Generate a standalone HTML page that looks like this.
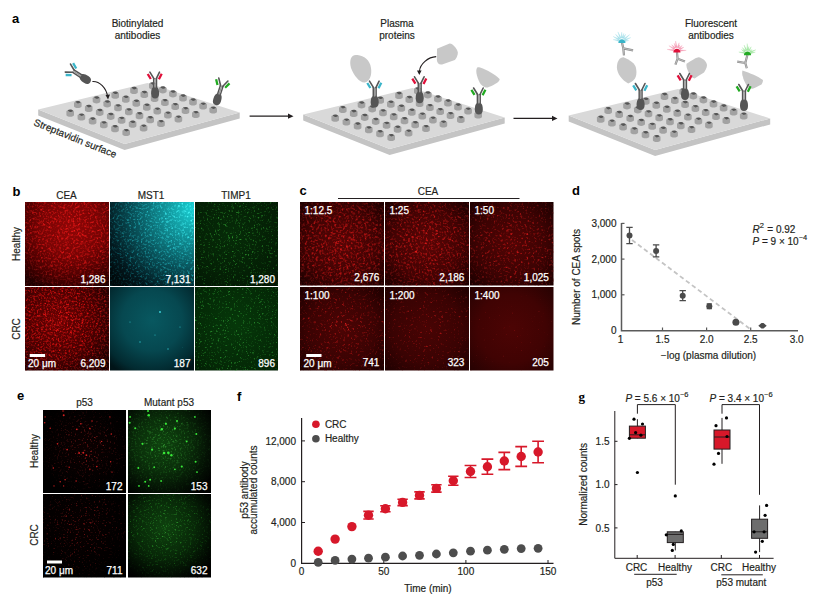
<!DOCTYPE html>
<html><head><meta charset="utf-8"><style>html,body{margin:0;padding:0;background:#fff;}svg{display:block;}text{font-family:"Liberation Sans",sans-serif;} text[fill="#231f20"]{stroke:#231f20;stroke-width:0.18px;}</style></head>
<body><svg width="816" height="602" viewBox="0 0 816 602" font-family="Liberation Sans, sans-serif"><defs><radialGradient id="bg0" cx="0.55" cy="0.3" r="0.8"><stop offset="0" stop-color="#900606"/><stop offset="0.45" stop-color="#760404"/><stop offset="0.8" stop-color="#440000"/><stop offset="1" stop-color="#200000"/></radialGradient><radialGradient id="br0" cx="0.55" cy="0.3" r="0.8"><stop offset="0" stop-color="#ff1c1c"/><stop offset="0.6" stop-color="#d01414"/><stop offset="1" stop-color="#501010"/></radialGradient><filter id="th0" x="0" y="0" width="1" height="1" color-interpolation-filters="sRGB"><feColorMatrix type="matrix" values="0 0 0 0 1  0 0 0 0 1  0 0 0 0 1  4.93 0 0 0 -2.394"/><feGaussianBlur stdDeviation="0.45"/></filter><filter id="raw0" x="0" y="0" width="1" height="1" color-interpolation-filters="sRGB"><feTurbulence type="fractalNoise" baseFrequency="0.6" numOctaves="2" seed="2"/><feColorMatrix type="matrix" values="1 0 0 0 0  1 0 0 0 0  1 0 0 0 0  0 0 0 0 1"/></filter><filter id="raw1" x="0" y="0" width="1" height="1" color-interpolation-filters="sRGB"><feTurbulence type="fractalNoise" baseFrequency="0.528" numOctaves="2" seed="52"/><feColorMatrix type="matrix" values="1 0 0 0 0  1 0 0 0 0  1 0 0 0 0  0 0 0 0 1"/></filter><mask id="m0" maskUnits="userSpaceOnUse" x="25" y="202" width="84" height="84"><g filter="url(#th0)"><rect x="25" y="202" width="84" height="84" fill="#000"/><g transform="rotate(27 67.0 244.0)"><rect x="4.0" y="181.0" width="126.0" height="126.0" filter="url(#raw0)"/></g><g transform="rotate(-19 67.0 244.0)" opacity="0.5"><rect x="4.0" y="181.0" width="126.0" height="126.0" filter="url(#raw1)"/></g></g></mask><radialGradient id="bg1" cx="1.0" cy="0.08" r="1.25"><stop offset="0" stop-color="#1ad0d4"/><stop offset="0.25" stop-color="#12989e"/><stop offset="0.6" stop-color="#084c54"/><stop offset="0.85" stop-color="#03181e"/><stop offset="1" stop-color="#010a0c"/></radialGradient><radialGradient id="br1" cx="1.0" cy="0.08" r="1.25"><stop offset="0" stop-color="#50ffff"/><stop offset="0.35" stop-color="#30d8e0"/><stop offset="0.8" stop-color="#10707a"/><stop offset="1" stop-color="#06343a"/></radialGradient><filter id="th1" x="0" y="0" width="1" height="1" color-interpolation-filters="sRGB"><feColorMatrix type="matrix" values="0 0 0 0 1  0 0 0 0 1  0 0 0 0 1  5.22 0 0 0 -2.610"/><feGaussianBlur stdDeviation="0.4"/></filter><filter id="raw2" x="0" y="0" width="1" height="1" color-interpolation-filters="sRGB"><feTurbulence type="fractalNoise" baseFrequency="0.6" numOctaves="2" seed="3"/><feColorMatrix type="matrix" values="1 0 0 0 0  1 0 0 0 0  1 0 0 0 0  0 0 0 0 1"/></filter><filter id="raw3" x="0" y="0" width="1" height="1" color-interpolation-filters="sRGB"><feTurbulence type="fractalNoise" baseFrequency="0.528" numOctaves="2" seed="53"/><feColorMatrix type="matrix" values="1 0 0 0 0  1 0 0 0 0  1 0 0 0 0  0 0 0 0 1"/></filter><mask id="m1" maskUnits="userSpaceOnUse" x="110" y="202" width="84" height="84"><g filter="url(#th1)"><rect x="110" y="202" width="84" height="84" fill="#000"/><g transform="rotate(33 152.0 244.0)"><rect x="89.0" y="181.0" width="126.0" height="126.0" filter="url(#raw2)"/></g><g transform="rotate(-23 152.0 244.0)" opacity="0.5"><rect x="89.0" y="181.0" width="126.0" height="126.0" filter="url(#raw3)"/></g></g></mask><radialGradient id="bg2" cx="0.45" cy="0.4" r="0.8"><stop offset="0" stop-color="#062c08"/><stop offset="0.7" stop-color="#041e05"/><stop offset="1" stop-color="#021404"/></radialGradient><radialGradient id="br2" cx="0.45" cy="0.4" r="0.8"><stop offset="0" stop-color="#40c840"/><stop offset="1" stop-color="#1a701e"/></radialGradient><filter id="th2" x="0" y="0" width="1" height="1" color-interpolation-filters="sRGB"><feColorMatrix type="matrix" values="0 0 0 0 1  0 0 0 0 1  0 0 0 0 1  4.93 0 0 0 -2.642"/><feGaussianBlur stdDeviation="0.45"/></filter><filter id="raw4" x="0" y="0" width="1" height="1" color-interpolation-filters="sRGB"><feTurbulence type="fractalNoise" baseFrequency="0.7" numOctaves="2" seed="4"/><feColorMatrix type="matrix" values="1 0 0 0 0  1 0 0 0 0  1 0 0 0 0  0 0 0 0 1"/></filter><filter id="raw5" x="0" y="0" width="1" height="1" color-interpolation-filters="sRGB"><feTurbulence type="fractalNoise" baseFrequency="0.616" numOctaves="2" seed="54"/><feColorMatrix type="matrix" values="1 0 0 0 0  1 0 0 0 0  1 0 0 0 0  0 0 0 0 1"/></filter><mask id="m2" maskUnits="userSpaceOnUse" x="195" y="202" width="83" height="84"><g filter="url(#th2)"><rect x="195" y="202" width="83" height="84" fill="#000"/><g transform="rotate(21 236.5 244.0)"><rect x="173.5" y="181.0" width="126.0" height="126.0" filter="url(#raw4)"/></g><g transform="rotate(-14 236.5 244.0)" opacity="0.5"><rect x="173.5" y="181.0" width="126.0" height="126.0" filter="url(#raw5)"/></g></g></mask><radialGradient id="bg3" cx="0.4" cy="0.4" r="0.75"><stop offset="0" stop-color="#6a0202"/><stop offset="0.6" stop-color="#460101"/><stop offset="1" stop-color="#1a0000"/></radialGradient><radialGradient id="br3" cx="0.4" cy="0.4" r="0.75"><stop offset="0" stop-color="#ff1a1a"/><stop offset="0.5" stop-color="#e01010"/><stop offset="1" stop-color="#701010"/></radialGradient><filter id="th3" x="0" y="0" width="1" height="1" color-interpolation-filters="sRGB"><feColorMatrix type="matrix" values="0 0 0 0 1  0 0 0 0 1  0 0 0 0 1  5.22 0 0 0 -2.497"/><feGaussianBlur stdDeviation="0.45"/></filter><filter id="raw6" x="0" y="0" width="1" height="1" color-interpolation-filters="sRGB"><feTurbulence type="fractalNoise" baseFrequency="0.68" numOctaves="2" seed="5"/><feColorMatrix type="matrix" values="1 0 0 0 0  1 0 0 0 0  1 0 0 0 0  0 0 0 0 1"/></filter><filter id="raw7" x="0" y="0" width="1" height="1" color-interpolation-filters="sRGB"><feTurbulence type="fractalNoise" baseFrequency="0.598" numOctaves="2" seed="55"/><feColorMatrix type="matrix" values="1 0 0 0 0  1 0 0 0 0  1 0 0 0 0  0 0 0 0 1"/></filter><mask id="m3" maskUnits="userSpaceOnUse" x="25" y="287" width="84" height="83.5"><g filter="url(#th3)"><rect x="25" y="287" width="84" height="83.5" fill="#000"/><g transform="rotate(38 67.0 328.75)"><rect x="4.0" y="265.75" width="126.0" height="126.0" filter="url(#raw6)"/></g><g transform="rotate(-31 67.0 328.75)" opacity="0.5"><rect x="4.0" y="265.75" width="126.0" height="126.0" filter="url(#raw7)"/></g></g></mask><radialGradient id="bg4" cx="0.5" cy="0.4" r="0.72"><stop offset="0" stop-color="#085860"/><stop offset="0.5" stop-color="#064850"/><stop offset="0.85" stop-color="#022a30"/><stop offset="1" stop-color="#011418"/></radialGradient><radialGradient id="br4" cx="0.5" cy="0.4" r="0.72"><stop offset="0" stop-color="#30c0c8"/><stop offset="1" stop-color="#20a0a8"/></radialGradient><filter id="th4" x="0" y="0" width="1" height="1" color-interpolation-filters="sRGB"><feColorMatrix type="matrix" values="0 0 0 0 1  0 0 0 0 1  0 0 0 0 1  5.80 0 0 0 -4.153"/><feGaussianBlur stdDeviation="0.4"/></filter><filter id="raw8" x="0" y="0" width="1" height="1" color-interpolation-filters="sRGB"><feTurbulence type="fractalNoise" baseFrequency="0.5" numOctaves="2" seed="6"/><feColorMatrix type="matrix" values="1 0 0 0 0  1 0 0 0 0  1 0 0 0 0  0 0 0 0 1"/></filter><filter id="raw9" x="0" y="0" width="1" height="1" color-interpolation-filters="sRGB"><feTurbulence type="fractalNoise" baseFrequency="0.44" numOctaves="2" seed="56"/><feColorMatrix type="matrix" values="1 0 0 0 0  1 0 0 0 0  1 0 0 0 0  0 0 0 0 1"/></filter><mask id="m4" maskUnits="userSpaceOnUse" x="110" y="287" width="84" height="83.5"><g filter="url(#th4)"><rect x="110" y="287" width="84" height="83.5" fill="#000"/><g transform="rotate(29 152.0 328.75)"><rect x="89.0" y="265.75" width="126.0" height="126.0" filter="url(#raw8)"/></g><g transform="rotate(-17 152.0 328.75)" opacity="0.5"><rect x="89.0" y="265.75" width="126.0" height="126.0" filter="url(#raw9)"/></g></g></mask><radialGradient id="bg5" cx="0.5" cy="0.45" r="0.8"><stop offset="0" stop-color="#06380a"/><stop offset="0.7" stop-color="#042806"/><stop offset="1" stop-color="#021a04"/></radialGradient><radialGradient id="br5" cx="0.5" cy="0.45" r="0.8"><stop offset="0" stop-color="#48d850"/><stop offset="1" stop-color="#209028"/></radialGradient><filter id="th5" x="0" y="0" width="1" height="1" color-interpolation-filters="sRGB"><feColorMatrix type="matrix" values="0 0 0 0 1  0 0 0 0 1  0 0 0 0 1  4.93 0 0 0 -2.678"/><feGaussianBlur stdDeviation="0.45"/></filter><filter id="raw10" x="0" y="0" width="1" height="1" color-interpolation-filters="sRGB"><feTurbulence type="fractalNoise" baseFrequency="0.7" numOctaves="2" seed="7"/><feColorMatrix type="matrix" values="1 0 0 0 0  1 0 0 0 0  1 0 0 0 0  0 0 0 0 1"/></filter><filter id="raw11" x="0" y="0" width="1" height="1" color-interpolation-filters="sRGB"><feTurbulence type="fractalNoise" baseFrequency="0.616" numOctaves="2" seed="57"/><feColorMatrix type="matrix" values="1 0 0 0 0  1 0 0 0 0  1 0 0 0 0  0 0 0 0 1"/></filter><mask id="m5" maskUnits="userSpaceOnUse" x="195" y="287" width="83" height="83.5"><g filter="url(#th5)"><rect x="195" y="287" width="83" height="83.5" fill="#000"/><g transform="rotate(24 236.5 328.75)"><rect x="173.875" y="266.125" width="125.25" height="125.25" filter="url(#raw10)"/></g><g transform="rotate(-26 236.5 328.75)" opacity="0.5"><rect x="173.875" y="266.125" width="125.25" height="125.25" filter="url(#raw11)"/></g></g></mask><radialGradient id="bg6" cx="0.5" cy="0.5" r="0.68"><stop offset="0" stop-color="#580505"/><stop offset="0.6" stop-color="#400303"/><stop offset="1" stop-color="#1e0000"/></radialGradient><radialGradient id="br6" cx="0.5" cy="0.5" r="0.68"><stop offset="0" stop-color="#e81818"/><stop offset="0.6" stop-color="#b01212"/><stop offset="1" stop-color="#501010"/></radialGradient><filter id="th6" x="0" y="0" width="1" height="1" color-interpolation-filters="sRGB"><feColorMatrix type="matrix" values="0 0 0 0 1  0 0 0 0 1  0 0 0 0 1  4.93 0 0 0 -2.394"/><feGaussianBlur stdDeviation="0.5"/></filter><filter id="raw12" x="0" y="0" width="1" height="1" color-interpolation-filters="sRGB"><feTurbulence type="fractalNoise" baseFrequency="0.55" numOctaves="2" seed="10"/><feColorMatrix type="matrix" values="1 0 0 0 0  1 0 0 0 0  1 0 0 0 0  0 0 0 0 1"/></filter><filter id="raw13" x="0" y="0" width="1" height="1" color-interpolation-filters="sRGB"><feTurbulence type="fractalNoise" baseFrequency="0.484" numOctaves="2" seed="60"/><feColorMatrix type="matrix" values="1 0 0 0 0  1 0 0 0 0  1 0 0 0 0  0 0 0 0 1"/></filter><mask id="m6" maskUnits="userSpaceOnUse" x="300" y="202" width="84" height="83.5"><g filter="url(#th6)"><rect x="300" y="202" width="84" height="83.5" fill="#000"/><g transform="rotate(27 342.0 243.75)"><rect x="279.0" y="180.75" width="126.0" height="126.0" filter="url(#raw12)"/></g><g transform="rotate(-19 342.0 243.75)" opacity="0.5"><rect x="279.0" y="180.75" width="126.0" height="126.0" filter="url(#raw13)"/></g></g></mask><radialGradient id="bg7" cx="0.5" cy="0.5" r="0.68"><stop offset="0" stop-color="#5a0505"/><stop offset="0.6" stop-color="#420303"/><stop offset="1" stop-color="#1e0000"/></radialGradient><radialGradient id="br7" cx="0.5" cy="0.5" r="0.68"><stop offset="0" stop-color="#f41c1c"/><stop offset="0.6" stop-color="#b81414"/><stop offset="1" stop-color="#501010"/></radialGradient><filter id="th7" x="0" y="0" width="1" height="1" color-interpolation-filters="sRGB"><feColorMatrix type="matrix" values="0 0 0 0 1  0 0 0 0 1  0 0 0 0 1  4.93 0 0 0 -2.465"/><feGaussianBlur stdDeviation="0.5"/></filter><filter id="raw14" x="0" y="0" width="1" height="1" color-interpolation-filters="sRGB"><feTurbulence type="fractalNoise" baseFrequency="0.55" numOctaves="2" seed="11"/><feColorMatrix type="matrix" values="1 0 0 0 0  1 0 0 0 0  1 0 0 0 0  0 0 0 0 1"/></filter><filter id="raw15" x="0" y="0" width="1" height="1" color-interpolation-filters="sRGB"><feTurbulence type="fractalNoise" baseFrequency="0.484" numOctaves="2" seed="61"/><feColorMatrix type="matrix" values="1 0 0 0 0  1 0 0 0 0  1 0 0 0 0  0 0 0 0 1"/></filter><mask id="m7" maskUnits="userSpaceOnUse" x="385" y="202" width="84" height="83.5"><g filter="url(#th7)"><rect x="385" y="202" width="84" height="83.5" fill="#000"/><g transform="rotate(33 427.0 243.75)"><rect x="364.0" y="180.75" width="126.0" height="126.0" filter="url(#raw14)"/></g><g transform="rotate(-23 427.0 243.75)" opacity="0.5"><rect x="364.0" y="180.75" width="126.0" height="126.0" filter="url(#raw15)"/></g></g></mask><radialGradient id="bg8" cx="0.5" cy="0.5" r="0.68"><stop offset="0" stop-color="#520404"/><stop offset="0.6" stop-color="#3c0303"/><stop offset="1" stop-color="#1e0000"/></radialGradient><radialGradient id="br8" cx="0.5" cy="0.5" r="0.68"><stop offset="0" stop-color="#e01818"/><stop offset="0.6" stop-color="#a81414"/><stop offset="1" stop-color="#501010"/></radialGradient><filter id="th8" x="0" y="0" width="1" height="1" color-interpolation-filters="sRGB"><feColorMatrix type="matrix" values="0 0 0 0 1  0 0 0 0 1  0 0 0 0 1  5.22 0 0 0 -2.723"/><feGaussianBlur stdDeviation="0.5"/></filter><filter id="raw16" x="0" y="0" width="1" height="1" color-interpolation-filters="sRGB"><feTurbulence type="fractalNoise" baseFrequency="0.55" numOctaves="2" seed="12"/><feColorMatrix type="matrix" values="1 0 0 0 0  1 0 0 0 0  1 0 0 0 0  0 0 0 0 1"/></filter><filter id="raw17" x="0" y="0" width="1" height="1" color-interpolation-filters="sRGB"><feTurbulence type="fractalNoise" baseFrequency="0.484" numOctaves="2" seed="62"/><feColorMatrix type="matrix" values="1 0 0 0 0  1 0 0 0 0  1 0 0 0 0  0 0 0 0 1"/></filter><mask id="m8" maskUnits="userSpaceOnUse" x="470" y="202" width="83.5" height="83.5"><g filter="url(#th8)"><rect x="470" y="202" width="83.5" height="83.5" fill="#000"/><g transform="rotate(21 511.75 243.75)"><rect x="449.125" y="181.125" width="125.25" height="125.25" filter="url(#raw16)"/></g><g transform="rotate(-14 511.75 243.75)" opacity="0.5"><rect x="449.125" y="181.125" width="125.25" height="125.25" filter="url(#raw17)"/></g></g></mask><radialGradient id="bg9" cx="0.5" cy="0.5" r="0.68"><stop offset="0" stop-color="#4c0404"/><stop offset="0.6" stop-color="#3a0303"/><stop offset="1" stop-color="#1e0000"/></radialGradient><radialGradient id="br9" cx="0.5" cy="0.5" r="0.68"><stop offset="0" stop-color="#d81c1c"/><stop offset="0.6" stop-color="#a01010"/><stop offset="1" stop-color="#501010"/></radialGradient><filter id="th9" x="0" y="0" width="1" height="1" color-interpolation-filters="sRGB"><feColorMatrix type="matrix" values="0 0 0 0 1  0 0 0 0 1  0 0 0 0 1  5.51 0 0 0 -2.953"/><feGaussianBlur stdDeviation="0.5"/></filter><filter id="raw18" x="0" y="0" width="1" height="1" color-interpolation-filters="sRGB"><feTurbulence type="fractalNoise" baseFrequency="0.55" numOctaves="2" seed="13"/><feColorMatrix type="matrix" values="1 0 0 0 0  1 0 0 0 0  1 0 0 0 0  0 0 0 0 1"/></filter><filter id="raw19" x="0" y="0" width="1" height="1" color-interpolation-filters="sRGB"><feTurbulence type="fractalNoise" baseFrequency="0.484" numOctaves="2" seed="63"/><feColorMatrix type="matrix" values="1 0 0 0 0  1 0 0 0 0  1 0 0 0 0  0 0 0 0 1"/></filter><mask id="m9" maskUnits="userSpaceOnUse" x="300" y="287" width="84" height="83.5"><g filter="url(#th9)"><rect x="300" y="287" width="84" height="83.5" fill="#000"/><g transform="rotate(38 342.0 328.75)"><rect x="279.0" y="265.75" width="126.0" height="126.0" filter="url(#raw18)"/></g><g transform="rotate(-31 342.0 328.75)" opacity="0.5"><rect x="279.0" y="265.75" width="126.0" height="126.0" filter="url(#raw19)"/></g></g></mask><radialGradient id="bg10" cx="0.5" cy="0.5" r="0.68"><stop offset="0" stop-color="#480404"/><stop offset="0.6" stop-color="#3a0303"/><stop offset="1" stop-color="#200101"/></radialGradient><radialGradient id="br10" cx="0.5" cy="0.5" r="0.68"><stop offset="0" stop-color="#c81818"/><stop offset="0.6" stop-color="#901010"/><stop offset="1" stop-color="#401010"/></radialGradient><filter id="th10" x="0" y="0" width="1" height="1" color-interpolation-filters="sRGB"><feColorMatrix type="matrix" values="0 0 0 0 1  0 0 0 0 1  0 0 0 0 1  5.80 0 0 0 -3.234"/><feGaussianBlur stdDeviation="0.5"/></filter><filter id="raw20" x="0" y="0" width="1" height="1" color-interpolation-filters="sRGB"><feTurbulence type="fractalNoise" baseFrequency="0.55" numOctaves="2" seed="14"/><feColorMatrix type="matrix" values="1 0 0 0 0  1 0 0 0 0  1 0 0 0 0  0 0 0 0 1"/></filter><filter id="raw21" x="0" y="0" width="1" height="1" color-interpolation-filters="sRGB"><feTurbulence type="fractalNoise" baseFrequency="0.484" numOctaves="2" seed="64"/><feColorMatrix type="matrix" values="1 0 0 0 0  1 0 0 0 0  1 0 0 0 0  0 0 0 0 1"/></filter><mask id="m10" maskUnits="userSpaceOnUse" x="385" y="287" width="84" height="83.5"><g filter="url(#th10)"><rect x="385" y="287" width="84" height="83.5" fill="#000"/><g transform="rotate(29 427.0 328.75)"><rect x="364.0" y="265.75" width="126.0" height="126.0" filter="url(#raw20)"/></g><g transform="rotate(-17 427.0 328.75)" opacity="0.5"><rect x="364.0" y="265.75" width="126.0" height="126.0" filter="url(#raw21)"/></g></g></mask><radialGradient id="bg11" cx="0.5" cy="0.5" r="0.68"><stop offset="0" stop-color="#4c0404"/><stop offset="0.6" stop-color="#400303"/><stop offset="1" stop-color="#280202"/></radialGradient><radialGradient id="br11" cx="0.5" cy="0.5" r="0.68"><stop offset="0" stop-color="#901010"/><stop offset="1" stop-color="#601010"/></radialGradient><filter id="th11" x="0" y="0" width="1" height="1" color-interpolation-filters="sRGB"><feColorMatrix type="matrix" values="0 0 0 0 1  0 0 0 0 1  0 0 0 0 1  5.80 0 0 0 -3.652"/><feGaussianBlur stdDeviation="0.5"/></filter><filter id="raw22" x="0" y="0" width="1" height="1" color-interpolation-filters="sRGB"><feTurbulence type="fractalNoise" baseFrequency="0.55" numOctaves="2" seed="15"/><feColorMatrix type="matrix" values="1 0 0 0 0  1 0 0 0 0  1 0 0 0 0  0 0 0 0 1"/></filter><filter id="raw23" x="0" y="0" width="1" height="1" color-interpolation-filters="sRGB"><feTurbulence type="fractalNoise" baseFrequency="0.484" numOctaves="2" seed="65"/><feColorMatrix type="matrix" values="1 0 0 0 0  1 0 0 0 0  1 0 0 0 0  0 0 0 0 1"/></filter><mask id="m11" maskUnits="userSpaceOnUse" x="470" y="287" width="83.5" height="83.5"><g filter="url(#th11)"><rect x="470" y="287" width="83.5" height="83.5" fill="#000"/><g transform="rotate(24 511.75 328.75)"><rect x="449.125" y="266.125" width="125.25" height="125.25" filter="url(#raw22)"/></g><g transform="rotate(-26 511.75 328.75)" opacity="0.5"><rect x="449.125" y="266.125" width="125.25" height="125.25" filter="url(#raw23)"/></g></g></mask><filter id="soft" x="-50%" y="-50%" width="200%" height="200%"><feGaussianBlur stdDeviation="0.45"/></filter><radialGradient id="bg12" cx="0.5" cy="0.45" r="0.6"><stop offset="0" stop-color="#0c0101"/><stop offset="1" stop-color="#000"/></radialGradient><radialGradient id="br12" cx="0.5" cy="0.45" r="0.6"><stop offset="0" stop-color="#b02020"/><stop offset="0.5" stop-color="#601414"/><stop offset="1" stop-color="#000"/></radialGradient><filter id="th12" x="0" y="0" width="1" height="1" color-interpolation-filters="sRGB"><feColorMatrix type="matrix" values="0 0 0 0 1  0 0 0 0 1  0 0 0 0 1  5.80 0 0 0 -3.109"/><feGaussianBlur stdDeviation="0.4"/></filter><filter id="raw24" x="0" y="0" width="1" height="1" color-interpolation-filters="sRGB"><feTurbulence type="fractalNoise" baseFrequency="0.7" numOctaves="2" seed="21"/><feColorMatrix type="matrix" values="1 0 0 0 0  1 0 0 0 0  1 0 0 0 0  0 0 0 0 1"/></filter><filter id="raw25" x="0" y="0" width="1" height="1" color-interpolation-filters="sRGB"><feTurbulence type="fractalNoise" baseFrequency="0.616" numOctaves="2" seed="71"/><feColorMatrix type="matrix" values="1 0 0 0 0  1 0 0 0 0  1 0 0 0 0  0 0 0 0 1"/></filter><mask id="m12" maskUnits="userSpaceOnUse" x="43" y="410" width="83" height="83"><g filter="url(#th12)"><rect x="43" y="410" width="83" height="83" fill="#000"/><g transform="rotate(27 84.5 451.5)"><rect x="22.25" y="389.25" width="124.5" height="124.5" filter="url(#raw24)"/></g><g transform="rotate(-19 84.5 451.5)" opacity="0.5"><rect x="22.25" y="389.25" width="124.5" height="124.5" filter="url(#raw25)"/></g></g></mask><radialGradient id="bg13" cx="0.42" cy="0.42" r="0.7"><stop offset="0" stop-color="#0e440e"/><stop offset="0.45" stop-color="#0a2e0a"/><stop offset="0.8" stop-color="#041004"/><stop offset="1" stop-color="#010301"/></radialGradient><radialGradient id="br13" cx="0.42" cy="0.42" r="0.7"><stop offset="0" stop-color="#48c848"/><stop offset="0.5" stop-color="#206820"/><stop offset="1" stop-color="#000"/></radialGradient><filter id="th13" x="0" y="0" width="1" height="1" color-interpolation-filters="sRGB"><feColorMatrix type="matrix" values="0 0 0 0 1  0 0 0 0 1  0 0 0 0 1  4.35 0 0 0 -2.238"/><feGaussianBlur stdDeviation="0.4"/></filter><filter id="raw26" x="0" y="0" width="1" height="1" color-interpolation-filters="sRGB"><feTurbulence type="fractalNoise" baseFrequency="0.7" numOctaves="2" seed="22"/><feColorMatrix type="matrix" values="1 0 0 0 0  1 0 0 0 0  1 0 0 0 0  0 0 0 0 1"/></filter><filter id="raw27" x="0" y="0" width="1" height="1" color-interpolation-filters="sRGB"><feTurbulence type="fractalNoise" baseFrequency="0.616" numOctaves="2" seed="72"/><feColorMatrix type="matrix" values="1 0 0 0 0  1 0 0 0 0  1 0 0 0 0  0 0 0 0 1"/></filter><mask id="m13" maskUnits="userSpaceOnUse" x="128" y="410" width="83" height="83"><g filter="url(#th13)"><rect x="128" y="410" width="83" height="83" fill="#000"/><g transform="rotate(33 169.5 451.5)"><rect x="107.25" y="389.25" width="124.5" height="124.5" filter="url(#raw26)"/></g><g transform="rotate(-23 169.5 451.5)" opacity="0.5"><rect x="107.25" y="389.25" width="124.5" height="124.5" filter="url(#raw27)"/></g></g></mask><radialGradient id="bg14" cx="0.45" cy="0.4" r="0.65"><stop offset="0" stop-color="#080000"/><stop offset="1" stop-color="#000"/></radialGradient><radialGradient id="br14" cx="0.45" cy="0.4" r="0.65"><stop offset="0" stop-color="#c02020"/><stop offset="0.5" stop-color="#701414"/><stop offset="1" stop-color="#000"/></radialGradient><filter id="th14" x="0" y="0" width="1" height="1" color-interpolation-filters="sRGB"><feColorMatrix type="matrix" values="0 0 0 0 1  0 0 0 0 1  0 0 0 0 1  5.80 0 0 0 -3.151"/><feGaussianBlur stdDeviation="0.4"/></filter><filter id="raw28" x="0" y="0" width="1" height="1" color-interpolation-filters="sRGB"><feTurbulence type="fractalNoise" baseFrequency="0.7" numOctaves="2" seed="23"/><feColorMatrix type="matrix" values="1 0 0 0 0  1 0 0 0 0  1 0 0 0 0  0 0 0 0 1"/></filter><filter id="raw29" x="0" y="0" width="1" height="1" color-interpolation-filters="sRGB"><feTurbulence type="fractalNoise" baseFrequency="0.616" numOctaves="2" seed="73"/><feColorMatrix type="matrix" values="1 0 0 0 0  1 0 0 0 0  1 0 0 0 0  0 0 0 0 1"/></filter><mask id="m14" maskUnits="userSpaceOnUse" x="43" y="494" width="83" height="83.5"><g filter="url(#th14)"><rect x="43" y="494" width="83" height="83.5" fill="#000"/><g transform="rotate(21 84.5 535.75)"><rect x="21.875" y="473.125" width="125.25" height="125.25" filter="url(#raw28)"/></g><g transform="rotate(-14 84.5 535.75)" opacity="0.5"><rect x="21.875" y="473.125" width="125.25" height="125.25" filter="url(#raw29)"/></g></g></mask><radialGradient id="bg15" cx="0.45" cy="0.4" r="0.7"><stop offset="0" stop-color="#0e420e"/><stop offset="0.5" stop-color="#082808"/><stop offset="0.85" stop-color="#020a02"/><stop offset="1" stop-color="#000"/></radialGradient><radialGradient id="br15" cx="0.45" cy="0.4" r="0.7"><stop offset="0" stop-color="#48d848"/><stop offset="0.5" stop-color="#228a22"/><stop offset="1" stop-color="#000"/></radialGradient><filter id="th15" x="0" y="0" width="1" height="1" color-interpolation-filters="sRGB"><feColorMatrix type="matrix" values="0 0 0 0 1  0 0 0 0 1  0 0 0 0 1  4.64 0 0 0 -2.454"/><feGaussianBlur stdDeviation="0.4"/></filter><filter id="raw30" x="0" y="0" width="1" height="1" color-interpolation-filters="sRGB"><feTurbulence type="fractalNoise" baseFrequency="0.7" numOctaves="2" seed="24"/><feColorMatrix type="matrix" values="1 0 0 0 0  1 0 0 0 0  1 0 0 0 0  0 0 0 0 1"/></filter><filter id="raw31" x="0" y="0" width="1" height="1" color-interpolation-filters="sRGB"><feTurbulence type="fractalNoise" baseFrequency="0.616" numOctaves="2" seed="74"/><feColorMatrix type="matrix" values="1 0 0 0 0  1 0 0 0 0  1 0 0 0 0  0 0 0 0 1"/></filter><mask id="m15" maskUnits="userSpaceOnUse" x="128" y="494" width="83" height="83.5"><g filter="url(#th15)"><rect x="128" y="494" width="83" height="83.5" fill="#000"/><g transform="rotate(38 169.5 535.75)"><rect x="106.875" y="473.125" width="125.25" height="125.25" filter="url(#raw30)"/></g><g transform="rotate(-31 169.5 535.75)" opacity="0.5"><rect x="106.875" y="473.125" width="125.25" height="125.25" filter="url(#raw31)"/></g></g></mask></defs><text x="12" y="23" font-size="13" font-weight="bold" fill="#000" >a</text><text x="12.5" y="195.5" font-size="13" font-weight="bold" fill="#000" >b</text><text x="299.5" y="194.7" font-size="13" font-weight="bold" fill="#000" >c</text><text x="572" y="195" font-size="13" font-weight="bold" fill="#000" >d</text><text x="17" y="399.5" font-size="13" font-weight="bold" fill="#000" >e</text><text x="237" y="400.5" font-size="13" font-weight="bold" fill="#000" >f</text><text x="578.5" y="401" font-size="13" font-weight="bold" fill="#000" style="font-family:'Liberation Serif',serif">g</text><rect x="25" y="202" width="84" height="84" fill="url(#bg0)"/><rect x="25" y="202" width="84" height="84" fill="url(#br0)" mask="url(#m0)"/><rect x="110" y="202" width="84" height="84" fill="url(#bg1)"/><rect x="110" y="202" width="84" height="84" fill="url(#br1)" mask="url(#m1)"/><rect x="195" y="202" width="83" height="84" fill="url(#bg2)"/><rect x="195" y="202" width="83" height="84" fill="url(#br2)" mask="url(#m2)"/><rect x="25" y="287" width="84" height="83.5" fill="url(#bg3)"/><rect x="25" y="287" width="84" height="83.5" fill="url(#br3)" mask="url(#m3)"/><rect x="110" y="287" width="84" height="83.5" fill="url(#bg4)"/><rect x="110" y="287" width="84" height="83.5" fill="url(#br4)" mask="url(#m4)"/><circle cx="160.0" cy="312.0" r="0.9" fill="#40d8e0"/><circle cx="140.0" cy="342.0" r="0.7" fill="#30c0c8"/><circle cx="168.0" cy="349.0" r="0.7" fill="#30c0c8"/><circle cx="130.0" cy="322.0" r="0.6" fill="#30b8c0"/><circle cx="180.0" cy="327.0" r="0.6" fill="#30b8c0"/><circle cx="155.0" cy="335.0" r="0.6" fill="#30b8c0"/><rect x="195" y="287" width="83" height="83.5" fill="url(#bg5)"/><rect x="195" y="287" width="83" height="83.5" fill="url(#br5)" mask="url(#m5)"/><text x="66.5" y="199" font-size="10" text-anchor="middle" fill="#231f20" font-weight="normal" >CEA</text><text x="151" y="199" font-size="10" text-anchor="middle" fill="#231f20" font-weight="normal" >MST1</text><text x="236" y="199" font-size="10" text-anchor="middle" fill="#231f20" font-weight="normal" >TIMP1</text><text transform="translate(20.3,244) rotate(-90)" font-size="10" text-anchor="middle" fill="#231f20">Healthy</text><text transform="translate(20.3,329) rotate(-90)" font-size="10" text-anchor="middle" fill="#231f20">CRC</text><text x="105.5" y="282.5" font-size="10" text-anchor="end" fill="#fff" stroke="#fff" stroke-width="0.25">1,286</text><text x="190.5" y="282.5" font-size="10" text-anchor="end" fill="#fff" stroke="#fff" stroke-width="0.25">7,131</text><text x="275" y="282.5" font-size="10" text-anchor="end" fill="#fff" stroke="#fff" stroke-width="0.25">1,280</text><text x="105.5" y="367" font-size="10" text-anchor="end" fill="#fff" stroke="#fff" stroke-width="0.25">6,209</text><text x="190.5" y="367" font-size="10" text-anchor="end" fill="#fff" stroke="#fff" stroke-width="0.25">187</text><text x="275" y="367" font-size="10" text-anchor="end" fill="#fff" stroke="#fff" stroke-width="0.25">896</text><rect x="29.7" y="354" width="15.4" height="3" fill="#fff"/><text x="28" y="367" font-size="10" text-anchor="start" fill="#fff" stroke="#fff" stroke-width="0.25">20 μm</text><rect x="300" y="202" width="84" height="83.5" fill="url(#bg6)"/><rect x="300" y="202" width="84" height="83.5" fill="url(#br6)" mask="url(#m6)"/><text x="304.5" y="214" font-size="10" text-anchor="start" fill="#fff" stroke="#fff" stroke-width="0.25">1:12.5</text><text x="379.4" y="281" font-size="10" text-anchor="end" fill="#fff" stroke="#fff" stroke-width="0.25">2,676</text><rect x="385" y="202" width="84" height="83.5" fill="url(#bg7)"/><rect x="385" y="202" width="84" height="83.5" fill="url(#br7)" mask="url(#m7)"/><text x="389.5" y="214" font-size="10" text-anchor="start" fill="#fff" stroke="#fff" stroke-width="0.25">1:25</text><text x="464.4" y="281" font-size="10" text-anchor="end" fill="#fff" stroke="#fff" stroke-width="0.25">2,186</text><rect x="470" y="202" width="83.5" height="83.5" fill="url(#bg8)"/><rect x="470" y="202" width="83.5" height="83.5" fill="url(#br8)" mask="url(#m8)"/><text x="474.5" y="214" font-size="10" text-anchor="start" fill="#fff" stroke="#fff" stroke-width="0.25">1:50</text><text x="548.9" y="281" font-size="10" text-anchor="end" fill="#fff" stroke="#fff" stroke-width="0.25">1,025</text><rect x="300" y="287" width="84" height="83.5" fill="url(#bg9)"/><rect x="300" y="287" width="84" height="83.5" fill="url(#br9)" mask="url(#m9)"/><text x="304.5" y="299" font-size="10" text-anchor="start" fill="#fff" stroke="#fff" stroke-width="0.25">1:100</text><text x="379.4" y="366" font-size="10" text-anchor="end" fill="#fff" stroke="#fff" stroke-width="0.25">741</text><rect x="385" y="287" width="84" height="83.5" fill="url(#bg10)"/><rect x="385" y="287" width="84" height="83.5" fill="url(#br10)" mask="url(#m10)"/><text x="389.5" y="299" font-size="10" text-anchor="start" fill="#fff" stroke="#fff" stroke-width="0.25">1:200</text><text x="464.4" y="366" font-size="10" text-anchor="end" fill="#fff" stroke="#fff" stroke-width="0.25">323</text><rect x="470" y="287" width="83.5" height="83.5" fill="url(#bg11)"/><rect x="470" y="287" width="83.5" height="83.5" fill="url(#br11)" mask="url(#m11)"/><text x="474.5" y="299" font-size="10" text-anchor="start" fill="#fff" stroke="#fff" stroke-width="0.25">1:400</text><text x="548.9" y="366" font-size="10" text-anchor="end" fill="#fff" stroke="#fff" stroke-width="0.25">205</text><rect x="306.2" y="354" width="15.3" height="3" fill="#fff"/><text x="303.5" y="367" font-size="10" text-anchor="start" fill="#fff" stroke="#fff" stroke-width="0.25">20 μm</text><text x="428" y="195.2" font-size="10" text-anchor="middle" fill="#231f20" font-weight="normal" >CEA</text><line x1="338" y1="198.5" x2="519.5" y2="198.5" stroke="#231f20" stroke-width="1"/><path d="M621.5 223 V330.8 H798" fill="none" stroke="#5a5a5a" stroke-width="1.5"/><line x1="621.5" y1="294.8" x2="624.5" y2="294.8" stroke="#5a5a5a" stroke-width="1.2"/><line x1="621.5" y1="259.1" x2="624.5" y2="259.1" stroke="#5a5a5a" stroke-width="1.2"/><line x1="621.5" y1="223.4" x2="624.5" y2="223.4" stroke="#5a5a5a" stroke-width="1.2"/><line x1="662.5" y1="330.5" x2="662.5" y2="327.5" stroke="#5a5a5a" stroke-width="1.2"/><line x1="706.6" y1="330.5" x2="706.6" y2="327.5" stroke="#5a5a5a" stroke-width="1.2"/><line x1="750.7" y1="330.5" x2="750.7" y2="327.5" stroke="#5a5a5a" stroke-width="1.2"/><text x="616.5" y="334.1" font-size="10" text-anchor="end" fill="#231f20" font-weight="normal" >0</text><text x="616.5" y="298.40000000000003" font-size="10" text-anchor="end" fill="#231f20" font-weight="normal" >1,000</text><text x="616.5" y="262.70000000000005" font-size="10" text-anchor="end" fill="#231f20" font-weight="normal" >2,000</text><text x="616.5" y="226.99999999999997" font-size="10" text-anchor="end" fill="#231f20" font-weight="normal" >3,000</text><text x="620.5" y="342.5" font-size="10" text-anchor="middle" fill="#231f20" font-weight="normal" >1</text><text x="662.5" y="342.5" font-size="10" text-anchor="middle" fill="#231f20" font-weight="normal" >1.5</text><text x="706.6" y="342.5" font-size="10" text-anchor="middle" fill="#231f20" font-weight="normal" >2.0</text><text x="750.7" y="342.5" font-size="10" text-anchor="middle" fill="#231f20" font-weight="normal" >2.5</text><text x="796.6" y="342.5" font-size="10" text-anchor="middle" fill="#231f20" font-weight="normal" >3.0</text><text x="708.5" y="359.2" font-size="10" text-anchor="middle" fill="#231f20" font-weight="normal" >−log (plasma dilution)</text><text transform="translate(579.5,277) rotate(-90)" font-size="10" text-anchor="middle" fill="#231f20">Number of CEA spots</text><line x1="632" y1="240" x2="751.5" y2="330" stroke="#c4c4c4" stroke-width="1.8" stroke-dasharray="4.5,3"/><path d="M629.5 227.3 V243.7 M626.3 227.3 H632.7 M626.3 243.7 H632.7" stroke="#4a4a4a" stroke-width="1.3" fill="none"/><circle cx="629.5" cy="235.5" r="3" fill="#4a4a4a"/><path d="M656.1 244.9 V256.9 M652.9 244.9 H659.3 M652.9 256.9 H659.3" stroke="#4a4a4a" stroke-width="1.3" fill="none"/><circle cx="656.1" cy="250.9" r="3" fill="#4a4a4a"/><path d="M682.7 290.7 V300.7 M679.5 290.7 H685.9 M679.5 300.7 H685.9" stroke="#4a4a4a" stroke-width="1.3" fill="none"/><circle cx="682.7" cy="295.7" r="3" fill="#4a4a4a"/><path d="M709.3 303.9 V308.5 M706.7 303.9 H711.9 M706.7 308.5 H711.9" stroke="#4a4a4a" stroke-width="1.3" fill="none"/><circle cx="709.3" cy="306.2" r="3" fill="#4a4a4a"/><circle cx="735.9" cy="322.2" r="3.5" fill="#4a4a4a"/><path d="M758.3 325.8 L761.5 323.0 L763.5 323.0 L766.7 325.8 L763.5 328.6 L761.5 328.6 Z" fill="#4a4a4a"/><text x="752.5" y="233" font-size="10" fill="#231f20"><tspan font-style="italic">R</tspan><tspan dy="-4.6" font-size="7.5">2</tspan><tspan dy="4.6" dx="0.6"> = 0.92</tspan></text><text x="752.5" y="245" font-size="10" fill="#231f20"><tspan font-style="italic">P</tspan> = 9 × 10<tspan dy="-4.6" font-size="7.5">−4</tspan></text><rect x="43" y="410" width="83" height="83" fill="url(#bg12)"/><rect x="43" y="410" width="83" height="83" fill="url(#br12)" mask="url(#m12)"/><g filter="url(#soft)"><circle cx="63.7" cy="415.2" r="0.98" fill="#d02020"/><circle cx="45.1" cy="416.9" r="0.68" fill="#d02020"/><circle cx="44.7" cy="422.7" r="0.75" fill="#d02020"/><circle cx="50.2" cy="428.2" r="0.75" fill="#d02020"/><circle cx="80.9" cy="423.8" r="0.83" fill="#d02020"/><circle cx="76.8" cy="429.3" r="0.90" fill="#d02020"/><circle cx="89.9" cy="428.6" r="0.83" fill="#d02020"/><circle cx="92.0" cy="421.0" r="0.75" fill="#d02020"/><circle cx="57.5" cy="443.8" r="0.83" fill="#d02020"/><circle cx="67.1" cy="449.7" r="0.83" fill="#d02020"/><circle cx="79.1" cy="453.0" r="0.98" fill="#d02020"/><circle cx="83.3" cy="452.8" r="0.98" fill="#d02020"/><circle cx="86.4" cy="455.2" r="0.90" fill="#d02020"/><circle cx="101.6" cy="441.4" r="0.68" fill="#d02020"/><circle cx="111.3" cy="434.1" r="0.75" fill="#d02020"/><circle cx="110.6" cy="461.7" r="0.75" fill="#d02020"/><circle cx="96.8" cy="466.6" r="0.83" fill="#d02020"/><circle cx="53.3" cy="467.9" r="0.75" fill="#d02020"/><circle cx="69.2" cy="467.2" r="0.68" fill="#d02020"/><circle cx="65.1" cy="479.7" r="0.75" fill="#d02020"/><circle cx="60.2" cy="481.7" r="0.75" fill="#d02020"/><circle cx="76.1" cy="481.0" r="0.68" fill="#d02020"/><circle cx="89.9" cy="469.3" r="0.68" fill="#d02020"/><circle cx="109.9" cy="416.9" r="0.68" fill="#d02020"/><circle cx="112.0" cy="472.1" r="0.68" fill="#d02020"/><circle cx="54.0" cy="485.9" r="0.68" fill="#d02020"/><circle cx="63.7" cy="485.9" r="0.68" fill="#d02020"/><circle cx="63.0" cy="411.1" r="0.75" fill="#d02020"/></g><rect x="128" y="410" width="83" height="83" fill="url(#bg13)"/><rect x="128" y="410" width="83" height="83" fill="url(#br13)" mask="url(#m13)"/><g filter="url(#soft)"><circle cx="148.7" cy="415.2" r="1.30" fill="#38e838"/><circle cx="130.1" cy="416.9" r="0.90" fill="#38e838"/><circle cx="129.7" cy="422.7" r="1.00" fill="#38e838"/><circle cx="135.2" cy="428.2" r="1.00" fill="#38e838"/><circle cx="165.9" cy="423.8" r="1.10" fill="#38e838"/><circle cx="161.8" cy="429.3" r="1.20" fill="#38e838"/><circle cx="174.9" cy="428.6" r="1.10" fill="#38e838"/><circle cx="177.0" cy="421.0" r="1.00" fill="#38e838"/><circle cx="142.5" cy="443.8" r="1.10" fill="#38e838"/><circle cx="152.1" cy="449.7" r="1.10" fill="#38e838"/><circle cx="164.1" cy="453.0" r="1.30" fill="#38e838"/><circle cx="168.3" cy="452.8" r="1.30" fill="#38e838"/><circle cx="171.4" cy="455.2" r="1.20" fill="#38e838"/><circle cx="186.6" cy="441.4" r="0.90" fill="#38e838"/><circle cx="196.3" cy="434.1" r="1.00" fill="#38e838"/><circle cx="195.6" cy="461.7" r="1.00" fill="#38e838"/><circle cx="181.8" cy="466.6" r="1.10" fill="#38e838"/><circle cx="138.3" cy="467.9" r="1.00" fill="#38e838"/><circle cx="154.2" cy="467.2" r="0.90" fill="#38e838"/><circle cx="150.1" cy="479.7" r="1.00" fill="#38e838"/><circle cx="145.2" cy="481.7" r="1.00" fill="#38e838"/><circle cx="161.1" cy="481.0" r="0.90" fill="#38e838"/><circle cx="174.9" cy="469.3" r="0.90" fill="#38e838"/><circle cx="194.9" cy="416.9" r="0.90" fill="#38e838"/><circle cx="197.0" cy="472.1" r="0.90" fill="#38e838"/><circle cx="139.0" cy="485.9" r="0.90" fill="#38e838"/><circle cx="148.7" cy="485.9" r="0.90" fill="#38e838"/><circle cx="148.0" cy="411.1" r="1.00" fill="#38e838"/></g><rect x="43" y="494" width="83" height="83.5" fill="url(#bg14)"/><rect x="43" y="494" width="83" height="83.5" fill="url(#br14)" mask="url(#m14)"/><rect x="128" y="494" width="83" height="83.5" fill="url(#bg15)"/><rect x="128" y="494" width="83" height="83.5" fill="url(#br15)" mask="url(#m15)"/><text x="84.5" y="406.3" font-size="10" text-anchor="middle" fill="#231f20" font-weight="normal" >p53</text><text x="169" y="406.3" font-size="10" text-anchor="middle" fill="#231f20" font-weight="normal" >Mutant p53</text><text transform="translate(37.5,451) rotate(-90)" font-size="10" text-anchor="middle" fill="#231f20">Healthy</text><text transform="translate(37.5,535) rotate(-90)" font-size="10" text-anchor="middle" fill="#231f20">CRC</text><text x="122.5" y="489.5" font-size="10" text-anchor="end" fill="#fff" stroke="#fff" stroke-width="0.25">172</text><text x="207.5" y="489.5" font-size="10" text-anchor="end" fill="#fff" stroke="#fff" stroke-width="0.25">153</text><text x="122.5" y="574" font-size="10" text-anchor="end" fill="#fff" stroke="#fff" stroke-width="0.25">711</text><text x="207.5" y="574" font-size="10" text-anchor="end" fill="#fff" stroke="#fff" stroke-width="0.25">632</text><rect x="47" y="560.5" width="15" height="3" fill="#fff"/><text x="45" y="574" font-size="10" text-anchor="start" fill="#fff" stroke="#fff" stroke-width="0.25">20 μm</text><path d="M301.6 418 V563.3 H553.5" fill="none" stroke="#231f20" stroke-width="1.2"/><line x1="301.6" y1="522.5" x2="305" y2="522.5" stroke="#231f20" stroke-width="1"/><line x1="301.6" y1="481.7" x2="305" y2="481.7" stroke="#231f20" stroke-width="1"/><line x1="301.6" y1="440.9" x2="305" y2="440.9" stroke="#231f20" stroke-width="1"/><text x="296" y="566.9" font-size="10" text-anchor="end" fill="#231f20" font-weight="normal" >0</text><text x="296" y="526.1" font-size="10" text-anchor="end" fill="#231f20" font-weight="normal" >4,000</text><text x="296" y="485.29999999999995" font-size="10" text-anchor="end" fill="#231f20" font-weight="normal" >8,000</text><text x="296" y="444.5" font-size="10" text-anchor="end" fill="#231f20" font-weight="normal" >12,000</text><line x1="383.8" y1="563.3" x2="383.8" y2="560" stroke="#231f20" stroke-width="1"/><line x1="465.9" y1="563.3" x2="465.9" y2="560" stroke="#231f20" stroke-width="1"/><line x1="548.0" y1="563.3" x2="548.0" y2="560" stroke="#231f20" stroke-width="1"/><text x="301.6" y="575.4" font-size="10" text-anchor="middle" fill="#231f20" font-weight="normal" >0</text><text x="383.75" y="575.4" font-size="10" text-anchor="middle" fill="#231f20" font-weight="normal" >50</text><text x="465.90000000000003" y="575.4" font-size="10" text-anchor="middle" fill="#231f20" font-weight="normal" >100</text><text x="548.05" y="575.4" font-size="10" text-anchor="middle" fill="#231f20" font-weight="normal" >150</text><text x="428" y="592.3" font-size="10" text-anchor="middle" fill="#231f20" font-weight="normal" >Time (min)</text><text transform="translate(247.5,490) rotate(-90)" font-size="10" text-anchor="middle" fill="#231f20">p53 antibody</text><text transform="translate(257,490) rotate(-90)" font-size="10" text-anchor="middle" fill="#231f20">accumulated counts</text><circle cx="318.2" cy="562.3" r="4.4" fill="#4d4d4d"/><circle cx="318.2" cy="551.2" r="4.7" fill="#d7182a"/><circle cx="335.1" cy="560.4" r="4.4" fill="#4d4d4d"/><circle cx="335.1" cy="539.1" r="4.7" fill="#d7182a"/><circle cx="351.9" cy="559.1" r="4.4" fill="#4d4d4d"/><circle cx="351.9" cy="526.6" r="4.7" fill="#d7182a"/><circle cx="368.5" cy="558.2" r="4.4" fill="#4d4d4d"/><path d="M368.5 511.4 V519.0 M363.3 511.4 H373.7 M363.3 519.0 H373.7" stroke="#d7182a" stroke-width="1.6" fill="none"/><circle cx="368.5" cy="515.2" r="4.7" fill="#d7182a"/><circle cx="385.4" cy="557.2" r="4.4" fill="#4d4d4d"/><path d="M385.4 505.8 V511.8 M380.2 505.8 H390.6 M380.2 511.8 H390.6" stroke="#d7182a" stroke-width="1.6" fill="none"/><circle cx="385.4" cy="508.8" r="4.7" fill="#d7182a"/><circle cx="402.6" cy="556.0" r="4.4" fill="#4d4d4d"/><path d="M402.6 499.2 V505.6 M397.4 499.2 H407.8 M397.4 505.6 H407.8" stroke="#d7182a" stroke-width="1.6" fill="none"/><circle cx="402.6" cy="502.4" r="4.7" fill="#d7182a"/><circle cx="419.5" cy="555.3" r="4.4" fill="#4d4d4d"/><path d="M419.5 491.9 V498.9 M414.3 491.9 H424.7 M414.3 498.9 H424.7" stroke="#d7182a" stroke-width="1.6" fill="none"/><circle cx="419.5" cy="495.4" r="4.7" fill="#d7182a"/><circle cx="436.4" cy="554.0" r="4.4" fill="#4d4d4d"/><path d="M436.4 484.7 V492.1 M431.2 484.7 H441.6 M431.2 492.1 H441.6" stroke="#d7182a" stroke-width="1.6" fill="none"/><circle cx="436.4" cy="488.4" r="4.7" fill="#d7182a"/><circle cx="453.3" cy="552.8" r="4.4" fill="#4d4d4d"/><path d="M453.3 476.2 V485.2 M448.1 476.2 H458.5 M448.1 485.2 H458.5" stroke="#d7182a" stroke-width="1.6" fill="none"/><circle cx="453.3" cy="480.7" r="4.7" fill="#d7182a"/><circle cx="470.5" cy="551.2" r="4.4" fill="#4d4d4d"/><path d="M470.5 465.5 V477.5 M464.6 465.5 H476.4 M464.6 477.5 H476.4" stroke="#d7182a" stroke-width="1.6" fill="none"/><circle cx="470.5" cy="471.5" r="4.7" fill="#d7182a"/><circle cx="487.4" cy="550.2" r="4.4" fill="#4d4d4d"/><path d="M487.4 459.1 V474.3 M481.5 459.1 H493.3 M481.5 474.3 H493.3" stroke="#d7182a" stroke-width="1.6" fill="none"/><circle cx="487.4" cy="466.7" r="4.7" fill="#d7182a"/><circle cx="504.3" cy="549.3" r="4.4" fill="#4d4d4d"/><path d="M504.3 452.4 V469.6 M498.4 452.4 H510.2 M498.4 469.6 H510.2" stroke="#d7182a" stroke-width="1.6" fill="none"/><circle cx="504.3" cy="461.0" r="4.7" fill="#d7182a"/><circle cx="521.2" cy="548.6" r="4.4" fill="#4d4d4d"/><path d="M521.2 446.6 V466.4 M515.3 446.6 H527.1 M515.3 466.4 H527.1" stroke="#d7182a" stroke-width="1.6" fill="none"/><circle cx="521.2" cy="456.5" r="4.7" fill="#d7182a"/><circle cx="538.1" cy="548.3" r="4.4" fill="#4d4d4d"/><path d="M538.1 441.3 V462.7 M532.2 441.3 H544.0 M532.2 462.7 H544.0" stroke="#d7182a" stroke-width="1.6" fill="none"/><circle cx="538.1" cy="452.0" r="4.7" fill="#d7182a"/><circle cx="315.9" cy="424.3" r="3.8" fill="#d7182a"/><text x="324.9" y="427.7" font-size="10" text-anchor="start" fill="#231f20" font-weight="normal" >CRC</text><circle cx="315.9" cy="438.7" r="3.8" fill="#4d4d4d"/><text x="324.9" y="441.9" font-size="10" text-anchor="start" fill="#231f20" font-weight="normal" >Healthy</text><path d="M614.8 411 V558.3 H773.6" fill="none" stroke="#231f20" stroke-width="1"/><line x1="614.8" y1="527.9" x2="617.5" y2="527.9" stroke="#231f20" stroke-width="1"/><text x="609.5" y="531.5" font-size="10" text-anchor="end" fill="#231f20" font-weight="normal" >0.5</text><line x1="614.8" y1="484.6" x2="617.5" y2="484.6" stroke="#231f20" stroke-width="1"/><text x="609.5" y="488.2" font-size="10" text-anchor="end" fill="#231f20" font-weight="normal" >1.0</text><line x1="614.8" y1="441.3" x2="617.5" y2="441.3" stroke="#231f20" stroke-width="1"/><text x="609.5" y="444.9" font-size="10" text-anchor="end" fill="#231f20" font-weight="normal" >1.5</text><line x1="637.2" y1="558.3" x2="637.2" y2="555" stroke="#231f20" stroke-width="1"/><line x1="675.1" y1="558.3" x2="675.1" y2="555" stroke="#231f20" stroke-width="1"/><line x1="721.3" y1="558.3" x2="721.3" y2="555" stroke="#231f20" stroke-width="1"/><line x1="759.5" y1="558.3" x2="759.5" y2="555" stroke="#231f20" stroke-width="1"/><text transform="translate(587.3,484.3) rotate(-90)" font-size="10" text-anchor="middle" fill="#231f20">Normalized counts</text><line x1="637.4" y1="419.2" x2="637.4" y2="438.3" stroke="#231f20" stroke-width="1"/><rect x="629.4" y="426.1" width="16" height="12.1" fill="#d7182a" stroke="#231f20" stroke-width="1"/><line x1="629.4" y1="434.8" x2="645.4" y2="434.8" stroke="#231f20" stroke-width="1"/><circle cx="634.0" cy="419.2" r="1.6" fill="#000"/><circle cx="642.5" cy="424.0" r="1.6" fill="#000"/><circle cx="635.6" cy="432.6" r="1.6" fill="#000"/><circle cx="640.9" cy="435.2" r="1.6" fill="#000"/><circle cx="629.4" cy="438.3" r="1.6" fill="#000"/><circle cx="637.4" cy="472.5" r="1.6" fill="#000"/><line x1="675.3" y1="531.8" x2="675.3" y2="550.4" stroke="#231f20" stroke-width="1"/><rect x="667.3" y="531.8" width="16" height="10.8" fill="#6d6d6d" stroke="#231f20" stroke-width="1"/><line x1="667.3" y1="534.4" x2="683.3" y2="534.4" stroke="#231f20" stroke-width="1"/><circle cx="681.3" cy="530.9" r="1.6" fill="#000"/><circle cx="666.3" cy="534.8" r="1.6" fill="#000"/><circle cx="673.3" cy="544.4" r="1.6" fill="#000"/><circle cx="672.3" cy="550.4" r="1.6" fill="#000"/><circle cx="675.3" cy="495.9" r="1.6" fill="#000"/><line x1="722" y1="417.9" x2="722" y2="463.8" stroke="#231f20" stroke-width="1"/><rect x="714" y="430.0" width="16" height="19.1" fill="#d7182a" stroke="#231f20" stroke-width="1"/><line x1="714" y1="437.0" x2="730" y2="437.0" stroke="#231f20" stroke-width="1"/><circle cx="716" cy="425.7" r="1.6" fill="#000"/><circle cx="726.5" cy="417.9" r="1.6" fill="#000"/><circle cx="718.5" cy="453.4" r="1.6" fill="#000"/><circle cx="714" cy="464.2" r="1.6" fill="#000"/><circle cx="727" cy="436.5" r="1.6" fill="#000"/><line x1="759.6" y1="505.4" x2="759.6" y2="552.1" stroke="#231f20" stroke-width="1"/><rect x="751.6" y="519.2" width="16" height="19.1" fill="#6d6d6d" stroke="#231f20" stroke-width="1"/><line x1="751.6" y1="531.8" x2="767.6" y2="531.8" stroke="#231f20" stroke-width="1"/><circle cx="766.6" cy="505.4" r="1.6" fill="#000"/><circle cx="765.1" cy="515.3" r="1.6" fill="#000"/><circle cx="754.1" cy="531.8" r="1.6" fill="#000"/><circle cx="764.1" cy="531.8" r="1.6" fill="#000"/><circle cx="762.3000000000001" cy="541.3" r="1.6" fill="#000"/><circle cx="755.6" cy="552.1" r="1.6" fill="#000"/><path d="M637.4 413.7 V404.6 H675.3 V484.7" fill="none" stroke="#231f20" stroke-width="1"/><path d="M722 413.7 V404.6 H759.5 V494.8" fill="none" stroke="#231f20" stroke-width="1"/><text x="625.4" y="401.7" font-size="10" fill="#231f20"><tspan font-style="italic">P</tspan> = 5.6 × 10<tspan dy="-4.6" font-size="7.5">−6</tspan></text><text x="709.5" y="401.7" font-size="10" fill="#231f20"><tspan font-style="italic">P</tspan> = 3.4 × 10<tspan dy="-4.6" font-size="7.5">−6</tspan></text><text x="636.5" y="570.7" font-size="10" text-anchor="middle" fill="#231f20" font-weight="normal" >CRC</text><text x="675" y="570.7" font-size="10" text-anchor="middle" fill="#231f20" font-weight="normal" >Healthy</text><text x="721.3" y="570.7" font-size="10" text-anchor="middle" fill="#231f20" font-weight="normal" >CRC</text><text x="759" y="570.7" font-size="10" text-anchor="middle" fill="#231f20" font-weight="normal" >Healthy</text><line x1="634.2" y1="574.3" x2="676.7" y2="574.3" stroke="#231f20" stroke-width="1"/><line x1="721.3" y1="574.8" x2="762.8" y2="574.8" stroke="#231f20" stroke-width="1"/><text x="654.5" y="586" font-size="10" text-anchor="middle" fill="#231f20" font-weight="normal" >p53</text><text x="741.3" y="586" font-size="10" text-anchor="middle" fill="#231f20" font-weight="normal" >p53 mutant</text><text x="137.5" y="26.5" font-size="10" text-anchor="middle" fill="#231f20" font-weight="normal" >Biotinylated</text><text x="137.5" y="38.5" font-size="10" text-anchor="middle" fill="#231f20" font-weight="normal" >antibodies</text><text x="397" y="26.5" font-size="10" text-anchor="middle" fill="#231f20" font-weight="normal" >Plasma</text><text x="397" y="38.5" font-size="10" text-anchor="middle" fill="#231f20" font-weight="normal" >proteins</text><text x="711" y="26.5" font-size="10" text-anchor="middle" fill="#231f20" font-weight="normal" >Fluorescent</text><text x="711" y="38.5" font-size="10" text-anchor="middle" fill="#231f20" font-weight="normal" >antibodies</text><line x1="249.6" y1="116.2" x2="289" y2="116.2" stroke="#231f20" stroke-width="1.3"/><path d="M288 113.6 L293.5 116.2 L288 118.8 Z" fill="#231f20"/><line x1="513.5" y1="118.4" x2="553" y2="118.4" stroke="#231f20" stroke-width="1.3"/><path d="M552 115.8 L557.5 118.4 L552 121 Z" fill="#231f20"/><path d="M38.2 109.5 L124.6 143.9 L239.7 112.4 L239.7 118.4 L124.6 149.9 L38.2 115.5 Z" fill="#c4c4c4"/><path d="M38.2 109.5 L147.5 83 L239.7 112.4 L124.6 143.9 Z" fill="#d9d9d9"/><g transform="translate(152.8,85.7)"><path d="M-3.8 -1.6 C-3.8 -3.6 3.8 -3.6 3.8 -1.6 V1.8 C3.8 4.2 -3.8 4.2 -3.8 1.8 Z" fill="#a2a2a2"/><path d="M-2.6 -2.9 C-1 -4 2.2 -3.6 2.8 -2.4 C2.2 -1.4 1 -1 0 -1 C-1 -1.6 -2 -2 -2.6 -2.9 Z" fill="#555"/></g><g transform="translate(162.8,89.8)"><path d="M-3.8 -1.6 C-3.8 -3.6 3.8 -3.6 3.8 -1.6 V1.8 C3.8 4.2 -3.8 4.2 -3.8 1.8 Z" fill="#a2a2a2"/><path d="M-2.6 -2.9 C-1 -4 2.2 -3.6 2.8 -2.4 C2.2 -1.4 1 -1 0 -1 C-1 -1.6 -2 -2 -2.6 -2.9 Z" fill="#555"/></g><g transform="translate(134.0,90.4)"><path d="M-3.8 -1.6 C-3.8 -3.6 3.8 -3.6 3.8 -1.6 V1.8 C3.8 4.2 -3.8 4.2 -3.8 1.8 Z" fill="#a2a2a2"/><path d="M-2.6 -2.9 C-1 -4 2.2 -3.6 2.8 -2.4 C2.2 -1.4 1 -1 0 -1 C-1 -1.6 -2 -2 -2.6 -2.9 Z" fill="#555"/></g><g transform="translate(172.9,93.8)"><path d="M-3.8 -1.6 C-3.8 -3.6 3.8 -3.6 3.8 -1.6 V1.8 C3.8 4.2 -3.8 4.2 -3.8 1.8 Z" fill="#a2a2a2"/><path d="M-2.6 -2.9 C-1 -4 2.2 -3.6 2.8 -2.4 C2.2 -1.4 1 -1 0 -1 C-1 -1.6 -2 -2 -2.6 -2.9 Z" fill="#555"/></g><g transform="translate(144.3,94.4)"><path d="M-3.8 -1.6 C-3.8 -3.6 3.8 -3.6 3.8 -1.6 V1.8 C3.8 4.2 -3.8 4.2 -3.8 1.8 Z" fill="#a2a2a2"/><path d="M-2.6 -2.9 C-1 -4 2.2 -3.6 2.8 -2.4 C2.2 -1.4 1 -1 0 -1 C-1 -1.6 -2 -2 -2.6 -2.9 Z" fill="#555"/></g><g transform="translate(115.2,95.1)"><path d="M-3.8 -1.6 C-3.8 -3.6 3.8 -3.6 3.8 -1.6 V1.8 C3.8 4.2 -3.8 4.2 -3.8 1.8 Z" fill="#a2a2a2"/><path d="M-2.6 -2.9 C-1 -4 2.2 -3.6 2.8 -2.4 C2.2 -1.4 1 -1 0 -1 C-1 -1.6 -2 -2 -2.6 -2.9 Z" fill="#555"/></g><g transform="translate(183.0,97.9)"><path d="M-3.8 -1.6 C-3.8 -3.6 3.8 -3.6 3.8 -1.6 V1.8 C3.8 4.2 -3.8 4.2 -3.8 1.8 Z" fill="#a2a2a2"/><path d="M-2.6 -2.9 C-1 -4 2.2 -3.6 2.8 -2.4 C2.2 -1.4 1 -1 0 -1 C-1 -1.6 -2 -2 -2.6 -2.9 Z" fill="#555"/></g><g transform="translate(154.6,98.4)"><path d="M-3.8 -1.6 C-3.8 -3.6 3.8 -3.6 3.8 -1.6 V1.8 C3.8 4.2 -3.8 4.2 -3.8 1.8 Z" fill="#a2a2a2"/><path d="M-2.6 -2.9 C-1 -4 2.2 -3.6 2.8 -2.4 C2.2 -1.4 1 -1 0 -1 C-1 -1.6 -2 -2 -2.6 -2.9 Z" fill="#555"/></g><g transform="translate(125.8,99.1)"><path d="M-3.8 -1.6 C-3.8 -3.6 3.8 -3.6 3.8 -1.6 V1.8 C3.8 4.2 -3.8 4.2 -3.8 1.8 Z" fill="#a2a2a2"/><path d="M-2.6 -2.9 C-1 -4 2.2 -3.6 2.8 -2.4 C2.2 -1.4 1 -1 0 -1 C-1 -1.6 -2 -2 -2.6 -2.9 Z" fill="#555"/></g><g transform="translate(96.5,99.8)"><path d="M-3.8 -1.6 C-3.8 -3.6 3.8 -3.6 3.8 -1.6 V1.8 C3.8 4.2 -3.8 4.2 -3.8 1.8 Z" fill="#a2a2a2"/><path d="M-2.6 -2.9 C-1 -4 2.2 -3.6 2.8 -2.4 C2.2 -1.4 1 -1 0 -1 C-1 -1.6 -2 -2 -2.6 -2.9 Z" fill="#555"/></g><g transform="translate(193.0,101.9)"><path d="M-3.8 -1.6 C-3.8 -3.6 3.8 -3.6 3.8 -1.6 V1.8 C3.8 4.2 -3.8 4.2 -3.8 1.8 Z" fill="#a2a2a2"/><path d="M-2.6 -2.9 C-1 -4 2.2 -3.6 2.8 -2.4 C2.2 -1.4 1 -1 0 -1 C-1 -1.6 -2 -2 -2.6 -2.9 Z" fill="#555"/></g><g transform="translate(164.9,102.5)"><path d="M-3.8 -1.6 C-3.8 -3.6 3.8 -3.6 3.8 -1.6 V1.8 C3.8 4.2 -3.8 4.2 -3.8 1.8 Z" fill="#a2a2a2"/><path d="M-2.6 -2.9 C-1 -4 2.2 -3.6 2.8 -2.4 C2.2 -1.4 1 -1 0 -1 C-1 -1.6 -2 -2 -2.6 -2.9 Z" fill="#555"/></g><g transform="translate(136.3,103.1)"><path d="M-3.8 -1.6 C-3.8 -3.6 3.8 -3.6 3.8 -1.6 V1.8 C3.8 4.2 -3.8 4.2 -3.8 1.8 Z" fill="#a2a2a2"/><path d="M-2.6 -2.9 C-1 -4 2.2 -3.6 2.8 -2.4 C2.2 -1.4 1 -1 0 -1 C-1 -1.6 -2 -2 -2.6 -2.9 Z" fill="#555"/></g><g transform="translate(107.2,103.8)"><path d="M-3.8 -1.6 C-3.8 -3.6 3.8 -3.6 3.8 -1.6 V1.8 C3.8 4.2 -3.8 4.2 -3.8 1.8 Z" fill="#a2a2a2"/><path d="M-2.6 -2.9 C-1 -4 2.2 -3.6 2.8 -2.4 C2.2 -1.4 1 -1 0 -1 C-1 -1.6 -2 -2 -2.6 -2.9 Z" fill="#555"/></g><g transform="translate(77.8,104.5)"><path d="M-3.8 -1.6 C-3.8 -3.6 3.8 -3.6 3.8 -1.6 V1.8 C3.8 4.2 -3.8 4.2 -3.8 1.8 Z" fill="#a2a2a2"/><path d="M-2.6 -2.9 C-1 -4 2.2 -3.6 2.8 -2.4 C2.2 -1.4 1 -1 0 -1 C-1 -1.6 -2 -2 -2.6 -2.9 Z" fill="#555"/></g><g transform="translate(203.1,106.0)"><path d="M-3.8 -1.6 C-3.8 -3.6 3.8 -3.6 3.8 -1.6 V1.8 C3.8 4.2 -3.8 4.2 -3.8 1.8 Z" fill="#a2a2a2"/><path d="M-2.6 -2.9 C-1 -4 2.2 -3.6 2.8 -2.4 C2.2 -1.4 1 -1 0 -1 C-1 -1.6 -2 -2 -2.6 -2.9 Z" fill="#555"/></g><g transform="translate(175.2,106.5)"><path d="M-3.8 -1.6 C-3.8 -3.6 3.8 -3.6 3.8 -1.6 V1.8 C3.8 4.2 -3.8 4.2 -3.8 1.8 Z" fill="#a2a2a2"/><path d="M-2.6 -2.9 C-1 -4 2.2 -3.6 2.8 -2.4 C2.2 -1.4 1 -1 0 -1 C-1 -1.6 -2 -2 -2.6 -2.9 Z" fill="#555"/></g><g transform="translate(146.8,107.1)"><path d="M-3.8 -1.6 C-3.8 -3.6 3.8 -3.6 3.8 -1.6 V1.8 C3.8 4.2 -3.8 4.2 -3.8 1.8 Z" fill="#a2a2a2"/><path d="M-2.6 -2.9 C-1 -4 2.2 -3.6 2.8 -2.4 C2.2 -1.4 1 -1 0 -1 C-1 -1.6 -2 -2 -2.6 -2.9 Z" fill="#555"/></g><g transform="translate(118.0,107.7)"><path d="M-3.8 -1.6 C-3.8 -3.6 3.8 -3.6 3.8 -1.6 V1.8 C3.8 4.2 -3.8 4.2 -3.8 1.8 Z" fill="#a2a2a2"/><path d="M-2.6 -2.9 C-1 -4 2.2 -3.6 2.8 -2.4 C2.2 -1.4 1 -1 0 -1 C-1 -1.6 -2 -2 -2.6 -2.9 Z" fill="#555"/></g><g transform="translate(88.7,108.4)"><path d="M-3.8 -1.6 C-3.8 -3.6 3.8 -3.6 3.8 -1.6 V1.8 C3.8 4.2 -3.8 4.2 -3.8 1.8 Z" fill="#a2a2a2"/><path d="M-2.6 -2.9 C-1 -4 2.2 -3.6 2.8 -2.4 C2.2 -1.4 1 -1 0 -1 C-1 -1.6 -2 -2 -2.6 -2.9 Z" fill="#555"/></g><g transform="translate(213.2,110.0)"><path d="M-3.8 -1.6 C-3.8 -3.6 3.8 -3.6 3.8 -1.6 V1.8 C3.8 4.2 -3.8 4.2 -3.8 1.8 Z" fill="#a2a2a2"/><path d="M-2.6 -2.9 C-1 -4 2.2 -3.6 2.8 -2.4 C2.2 -1.4 1 -1 0 -1 C-1 -1.6 -2 -2 -2.6 -2.9 Z" fill="#555"/></g><g transform="translate(185.5,110.5)"><path d="M-3.8 -1.6 C-3.8 -3.6 3.8 -3.6 3.8 -1.6 V1.8 C3.8 4.2 -3.8 4.2 -3.8 1.8 Z" fill="#a2a2a2"/><path d="M-2.6 -2.9 C-1 -4 2.2 -3.6 2.8 -2.4 C2.2 -1.4 1 -1 0 -1 C-1 -1.6 -2 -2 -2.6 -2.9 Z" fill="#555"/></g><g transform="translate(157.3,111.0)"><path d="M-3.8 -1.6 C-3.8 -3.6 3.8 -3.6 3.8 -1.6 V1.8 C3.8 4.2 -3.8 4.2 -3.8 1.8 Z" fill="#a2a2a2"/><path d="M-2.6 -2.9 C-1 -4 2.2 -3.6 2.8 -2.4 C2.2 -1.4 1 -1 0 -1 C-1 -1.6 -2 -2 -2.6 -2.9 Z" fill="#555"/></g><g transform="translate(128.8,111.7)"><path d="M-3.8 -1.6 C-3.8 -3.6 3.8 -3.6 3.8 -1.6 V1.8 C3.8 4.2 -3.8 4.2 -3.8 1.8 Z" fill="#a2a2a2"/><path d="M-2.6 -2.9 C-1 -4 2.2 -3.6 2.8 -2.4 C2.2 -1.4 1 -1 0 -1 C-1 -1.6 -2 -2 -2.6 -2.9 Z" fill="#555"/></g><g transform="translate(99.7,112.3)"><path d="M-3.8 -1.6 C-3.8 -3.6 3.8 -3.6 3.8 -1.6 V1.8 C3.8 4.2 -3.8 4.2 -3.8 1.8 Z" fill="#a2a2a2"/><path d="M-2.6 -2.9 C-1 -4 2.2 -3.6 2.8 -2.4 C2.2 -1.4 1 -1 0 -1 C-1 -1.6 -2 -2 -2.6 -2.9 Z" fill="#555"/></g><g transform="translate(70.2,113.1)"><path d="M-3.8 -1.6 C-3.8 -3.6 3.8 -3.6 3.8 -1.6 V1.8 C3.8 4.2 -3.8 4.2 -3.8 1.8 Z" fill="#a2a2a2"/><path d="M-2.6 -2.9 C-1 -4 2.2 -3.6 2.8 -2.4 C2.2 -1.4 1 -1 0 -1 C-1 -1.6 -2 -2 -2.6 -2.9 Z" fill="#555"/></g><g transform="translate(195.8,114.5)"><path d="M-3.8 -1.6 C-3.8 -3.6 3.8 -3.6 3.8 -1.6 V1.8 C3.8 4.2 -3.8 4.2 -3.8 1.8 Z" fill="#a2a2a2"/><path d="M-2.6 -2.9 C-1 -4 2.2 -3.6 2.8 -2.4 C2.2 -1.4 1 -1 0 -1 C-1 -1.6 -2 -2 -2.6 -2.9 Z" fill="#555"/></g><g transform="translate(167.9,115.0)"><path d="M-3.8 -1.6 C-3.8 -3.6 3.8 -3.6 3.8 -1.6 V1.8 C3.8 4.2 -3.8 4.2 -3.8 1.8 Z" fill="#a2a2a2"/><path d="M-2.6 -2.9 C-1 -4 2.2 -3.6 2.8 -2.4 C2.2 -1.4 1 -1 0 -1 C-1 -1.6 -2 -2 -2.6 -2.9 Z" fill="#555"/></g><g transform="translate(139.5,115.6)"><path d="M-3.8 -1.6 C-3.8 -3.6 3.8 -3.6 3.8 -1.6 V1.8 C3.8 4.2 -3.8 4.2 -3.8 1.8 Z" fill="#a2a2a2"/><path d="M-2.6 -2.9 C-1 -4 2.2 -3.6 2.8 -2.4 C2.2 -1.4 1 -1 0 -1 C-1 -1.6 -2 -2 -2.6 -2.9 Z" fill="#555"/></g><g transform="translate(110.7,116.3)"><path d="M-3.8 -1.6 C-3.8 -3.6 3.8 -3.6 3.8 -1.6 V1.8 C3.8 4.2 -3.8 4.2 -3.8 1.8 Z" fill="#a2a2a2"/><path d="M-2.6 -2.9 C-1 -4 2.2 -3.6 2.8 -2.4 C2.2 -1.4 1 -1 0 -1 C-1 -1.6 -2 -2 -2.6 -2.9 Z" fill="#555"/></g><g transform="translate(81.4,117.0)"><path d="M-3.8 -1.6 C-3.8 -3.6 3.8 -3.6 3.8 -1.6 V1.8 C3.8 4.2 -3.8 4.2 -3.8 1.8 Z" fill="#a2a2a2"/><path d="M-2.6 -2.9 C-1 -4 2.2 -3.6 2.8 -2.4 C2.2 -1.4 1 -1 0 -1 C-1 -1.6 -2 -2 -2.6 -2.9 Z" fill="#555"/></g><g transform="translate(178.4,119.0)"><path d="M-3.8 -1.6 C-3.8 -3.6 3.8 -3.6 3.8 -1.6 V1.8 C3.8 4.2 -3.8 4.2 -3.8 1.8 Z" fill="#a2a2a2"/><path d="M-2.6 -2.9 C-1 -4 2.2 -3.6 2.8 -2.4 C2.2 -1.4 1 -1 0 -1 C-1 -1.6 -2 -2 -2.6 -2.9 Z" fill="#555"/></g><g transform="translate(150.2,119.6)"><path d="M-3.8 -1.6 C-3.8 -3.6 3.8 -3.6 3.8 -1.6 V1.8 C3.8 4.2 -3.8 4.2 -3.8 1.8 Z" fill="#a2a2a2"/><path d="M-2.6 -2.9 C-1 -4 2.2 -3.6 2.8 -2.4 C2.2 -1.4 1 -1 0 -1 C-1 -1.6 -2 -2 -2.6 -2.9 Z" fill="#555"/></g><g transform="translate(121.6,120.2)"><path d="M-3.8 -1.6 C-3.8 -3.6 3.8 -3.6 3.8 -1.6 V1.8 C3.8 4.2 -3.8 4.2 -3.8 1.8 Z" fill="#a2a2a2"/><path d="M-2.6 -2.9 C-1 -4 2.2 -3.6 2.8 -2.4 C2.2 -1.4 1 -1 0 -1 C-1 -1.6 -2 -2 -2.6 -2.9 Z" fill="#555"/></g><g transform="translate(92.6,120.9)"><path d="M-3.8 -1.6 C-3.8 -3.6 3.8 -3.6 3.8 -1.6 V1.8 C3.8 4.2 -3.8 4.2 -3.8 1.8 Z" fill="#a2a2a2"/><path d="M-2.6 -2.9 C-1 -4 2.2 -3.6 2.8 -2.4 C2.2 -1.4 1 -1 0 -1 C-1 -1.6 -2 -2 -2.6 -2.9 Z" fill="#555"/></g><g transform="translate(161.0,123.5)"><path d="M-3.8 -1.6 C-3.8 -3.6 3.8 -3.6 3.8 -1.6 V1.8 C3.8 4.2 -3.8 4.2 -3.8 1.8 Z" fill="#a2a2a2"/><path d="M-2.6 -2.9 C-1 -4 2.2 -3.6 2.8 -2.4 C2.2 -1.4 1 -1 0 -1 C-1 -1.6 -2 -2 -2.6 -2.9 Z" fill="#555"/></g><g transform="translate(132.6,124.1)"><path d="M-3.8 -1.6 C-3.8 -3.6 3.8 -3.6 3.8 -1.6 V1.8 C3.8 4.2 -3.8 4.2 -3.8 1.8 Z" fill="#a2a2a2"/><path d="M-2.6 -2.9 C-1 -4 2.2 -3.6 2.8 -2.4 C2.2 -1.4 1 -1 0 -1 C-1 -1.6 -2 -2 -2.6 -2.9 Z" fill="#555"/></g><g transform="translate(103.8,124.7)"><path d="M-3.8 -1.6 C-3.8 -3.6 3.8 -3.6 3.8 -1.6 V1.8 C3.8 4.2 -3.8 4.2 -3.8 1.8 Z" fill="#a2a2a2"/><path d="M-2.6 -2.9 C-1 -4 2.2 -3.6 2.8 -2.4 C2.2 -1.4 1 -1 0 -1 C-1 -1.6 -2 -2 -2.6 -2.9 Z" fill="#555"/></g><g transform="translate(143.6,128.0)"><path d="M-3.8 -1.6 C-3.8 -3.6 3.8 -3.6 3.8 -1.6 V1.8 C3.8 4.2 -3.8 4.2 -3.8 1.8 Z" fill="#a2a2a2"/><path d="M-2.6 -2.9 C-1 -4 2.2 -3.6 2.8 -2.4 C2.2 -1.4 1 -1 0 -1 C-1 -1.6 -2 -2 -2.6 -2.9 Z" fill="#555"/></g><g transform="translate(115.0,128.6)"><path d="M-3.8 -1.6 C-3.8 -3.6 3.8 -3.6 3.8 -1.6 V1.8 C3.8 4.2 -3.8 4.2 -3.8 1.8 Z" fill="#a2a2a2"/><path d="M-2.6 -2.9 C-1 -4 2.2 -3.6 2.8 -2.4 C2.2 -1.4 1 -1 0 -1 C-1 -1.6 -2 -2 -2.6 -2.9 Z" fill="#555"/></g><g transform="translate(126.2,132.5)"><path d="M-3.8 -1.6 C-3.8 -3.6 3.8 -3.6 3.8 -1.6 V1.8 C3.8 4.2 -3.8 4.2 -3.8 1.8 Z" fill="#a2a2a2"/><path d="M-2.6 -2.9 C-1 -4 2.2 -3.6 2.8 -2.4 C2.2 -1.4 1 -1 0 -1 C-1 -1.6 -2 -2 -2.6 -2.9 Z" fill="#555"/></g><path d="M303.2 114.5 L389.6 148.9 L504.7 117.4 L504.7 123.4 L389.6 154.9 L303.2 120.5 Z" fill="#c4c4c4"/><path d="M303.2 114.5 L412.5 88 L504.7 117.4 L389.6 148.9 Z" fill="#d9d9d9"/><g transform="translate(417.8,90.7)"><path d="M-3.8 -1.6 C-3.8 -3.6 3.8 -3.6 3.8 -1.6 V1.8 C3.8 4.2 -3.8 4.2 -3.8 1.8 Z" fill="#a2a2a2"/><path d="M-2.6 -2.9 C-1 -4 2.2 -3.6 2.8 -2.4 C2.2 -1.4 1 -1 0 -1 C-1 -1.6 -2 -2 -2.6 -2.9 Z" fill="#555"/></g><g transform="translate(427.8,94.8)"><path d="M-3.8 -1.6 C-3.8 -3.6 3.8 -3.6 3.8 -1.6 V1.8 C3.8 4.2 -3.8 4.2 -3.8 1.8 Z" fill="#a2a2a2"/><path d="M-2.6 -2.9 C-1 -4 2.2 -3.6 2.8 -2.4 C2.2 -1.4 1 -1 0 -1 C-1 -1.6 -2 -2 -2.6 -2.9 Z" fill="#555"/></g><g transform="translate(399.0,95.4)"><path d="M-3.8 -1.6 C-3.8 -3.6 3.8 -3.6 3.8 -1.6 V1.8 C3.8 4.2 -3.8 4.2 -3.8 1.8 Z" fill="#a2a2a2"/><path d="M-2.6 -2.9 C-1 -4 2.2 -3.6 2.8 -2.4 C2.2 -1.4 1 -1 0 -1 C-1 -1.6 -2 -2 -2.6 -2.9 Z" fill="#555"/></g><g transform="translate(437.9,98.8)"><path d="M-3.8 -1.6 C-3.8 -3.6 3.8 -3.6 3.8 -1.6 V1.8 C3.8 4.2 -3.8 4.2 -3.8 1.8 Z" fill="#a2a2a2"/><path d="M-2.6 -2.9 C-1 -4 2.2 -3.6 2.8 -2.4 C2.2 -1.4 1 -1 0 -1 C-1 -1.6 -2 -2 -2.6 -2.9 Z" fill="#555"/></g><g transform="translate(409.3,99.4)"><path d="M-3.8 -1.6 C-3.8 -3.6 3.8 -3.6 3.8 -1.6 V1.8 C3.8 4.2 -3.8 4.2 -3.8 1.8 Z" fill="#a2a2a2"/><path d="M-2.6 -2.9 C-1 -4 2.2 -3.6 2.8 -2.4 C2.2 -1.4 1 -1 0 -1 C-1 -1.6 -2 -2 -2.6 -2.9 Z" fill="#555"/></g><g transform="translate(380.2,100.1)"><path d="M-3.8 -1.6 C-3.8 -3.6 3.8 -3.6 3.8 -1.6 V1.8 C3.8 4.2 -3.8 4.2 -3.8 1.8 Z" fill="#a2a2a2"/><path d="M-2.6 -2.9 C-1 -4 2.2 -3.6 2.8 -2.4 C2.2 -1.4 1 -1 0 -1 C-1 -1.6 -2 -2 -2.6 -2.9 Z" fill="#555"/></g><g transform="translate(448.0,102.9)"><path d="M-3.8 -1.6 C-3.8 -3.6 3.8 -3.6 3.8 -1.6 V1.8 C3.8 4.2 -3.8 4.2 -3.8 1.8 Z" fill="#a2a2a2"/><path d="M-2.6 -2.9 C-1 -4 2.2 -3.6 2.8 -2.4 C2.2 -1.4 1 -1 0 -1 C-1 -1.6 -2 -2 -2.6 -2.9 Z" fill="#555"/></g><g transform="translate(419.6,103.4)"><path d="M-3.8 -1.6 C-3.8 -3.6 3.8 -3.6 3.8 -1.6 V1.8 C3.8 4.2 -3.8 4.2 -3.8 1.8 Z" fill="#a2a2a2"/><path d="M-2.6 -2.9 C-1 -4 2.2 -3.6 2.8 -2.4 C2.2 -1.4 1 -1 0 -1 C-1 -1.6 -2 -2 -2.6 -2.9 Z" fill="#555"/></g><g transform="translate(390.8,104.1)"><path d="M-3.8 -1.6 C-3.8 -3.6 3.8 -3.6 3.8 -1.6 V1.8 C3.8 4.2 -3.8 4.2 -3.8 1.8 Z" fill="#a2a2a2"/><path d="M-2.6 -2.9 C-1 -4 2.2 -3.6 2.8 -2.4 C2.2 -1.4 1 -1 0 -1 C-1 -1.6 -2 -2 -2.6 -2.9 Z" fill="#555"/></g><g transform="translate(361.5,104.8)"><path d="M-3.8 -1.6 C-3.8 -3.6 3.8 -3.6 3.8 -1.6 V1.8 C3.8 4.2 -3.8 4.2 -3.8 1.8 Z" fill="#a2a2a2"/><path d="M-2.6 -2.9 C-1 -4 2.2 -3.6 2.8 -2.4 C2.2 -1.4 1 -1 0 -1 C-1 -1.6 -2 -2 -2.6 -2.9 Z" fill="#555"/></g><g transform="translate(458.0,106.9)"><path d="M-3.8 -1.6 C-3.8 -3.6 3.8 -3.6 3.8 -1.6 V1.8 C3.8 4.2 -3.8 4.2 -3.8 1.8 Z" fill="#a2a2a2"/><path d="M-2.6 -2.9 C-1 -4 2.2 -3.6 2.8 -2.4 C2.2 -1.4 1 -1 0 -1 C-1 -1.6 -2 -2 -2.6 -2.9 Z" fill="#555"/></g><g transform="translate(429.9,107.5)"><path d="M-3.8 -1.6 C-3.8 -3.6 3.8 -3.6 3.8 -1.6 V1.8 C3.8 4.2 -3.8 4.2 -3.8 1.8 Z" fill="#a2a2a2"/><path d="M-2.6 -2.9 C-1 -4 2.2 -3.6 2.8 -2.4 C2.2 -1.4 1 -1 0 -1 C-1 -1.6 -2 -2 -2.6 -2.9 Z" fill="#555"/></g><g transform="translate(401.3,108.1)"><path d="M-3.8 -1.6 C-3.8 -3.6 3.8 -3.6 3.8 -1.6 V1.8 C3.8 4.2 -3.8 4.2 -3.8 1.8 Z" fill="#a2a2a2"/><path d="M-2.6 -2.9 C-1 -4 2.2 -3.6 2.8 -2.4 C2.2 -1.4 1 -1 0 -1 C-1 -1.6 -2 -2 -2.6 -2.9 Z" fill="#555"/></g><g transform="translate(372.2,108.8)"><path d="M-3.8 -1.6 C-3.8 -3.6 3.8 -3.6 3.8 -1.6 V1.8 C3.8 4.2 -3.8 4.2 -3.8 1.8 Z" fill="#a2a2a2"/><path d="M-2.6 -2.9 C-1 -4 2.2 -3.6 2.8 -2.4 C2.2 -1.4 1 -1 0 -1 C-1 -1.6 -2 -2 -2.6 -2.9 Z" fill="#555"/></g><g transform="translate(342.8,109.5)"><path d="M-3.8 -1.6 C-3.8 -3.6 3.8 -3.6 3.8 -1.6 V1.8 C3.8 4.2 -3.8 4.2 -3.8 1.8 Z" fill="#a2a2a2"/><path d="M-2.6 -2.9 C-1 -4 2.2 -3.6 2.8 -2.4 C2.2 -1.4 1 -1 0 -1 C-1 -1.6 -2 -2 -2.6 -2.9 Z" fill="#555"/></g><g transform="translate(468.1,111.0)"><path d="M-3.8 -1.6 C-3.8 -3.6 3.8 -3.6 3.8 -1.6 V1.8 C3.8 4.2 -3.8 4.2 -3.8 1.8 Z" fill="#a2a2a2"/><path d="M-2.6 -2.9 C-1 -4 2.2 -3.6 2.8 -2.4 C2.2 -1.4 1 -1 0 -1 C-1 -1.6 -2 -2 -2.6 -2.9 Z" fill="#555"/></g><g transform="translate(440.2,111.5)"><path d="M-3.8 -1.6 C-3.8 -3.6 3.8 -3.6 3.8 -1.6 V1.8 C3.8 4.2 -3.8 4.2 -3.8 1.8 Z" fill="#a2a2a2"/><path d="M-2.6 -2.9 C-1 -4 2.2 -3.6 2.8 -2.4 C2.2 -1.4 1 -1 0 -1 C-1 -1.6 -2 -2 -2.6 -2.9 Z" fill="#555"/></g><g transform="translate(411.8,112.1)"><path d="M-3.8 -1.6 C-3.8 -3.6 3.8 -3.6 3.8 -1.6 V1.8 C3.8 4.2 -3.8 4.2 -3.8 1.8 Z" fill="#a2a2a2"/><path d="M-2.6 -2.9 C-1 -4 2.2 -3.6 2.8 -2.4 C2.2 -1.4 1 -1 0 -1 C-1 -1.6 -2 -2 -2.6 -2.9 Z" fill="#555"/></g><g transform="translate(383.0,112.7)"><path d="M-3.8 -1.6 C-3.8 -3.6 3.8 -3.6 3.8 -1.6 V1.8 C3.8 4.2 -3.8 4.2 -3.8 1.8 Z" fill="#a2a2a2"/><path d="M-2.6 -2.9 C-1 -4 2.2 -3.6 2.8 -2.4 C2.2 -1.4 1 -1 0 -1 C-1 -1.6 -2 -2 -2.6 -2.9 Z" fill="#555"/></g><g transform="translate(353.7,113.4)"><path d="M-3.8 -1.6 C-3.8 -3.6 3.8 -3.6 3.8 -1.6 V1.8 C3.8 4.2 -3.8 4.2 -3.8 1.8 Z" fill="#a2a2a2"/><path d="M-2.6 -2.9 C-1 -4 2.2 -3.6 2.8 -2.4 C2.2 -1.4 1 -1 0 -1 C-1 -1.6 -2 -2 -2.6 -2.9 Z" fill="#555"/></g><g transform="translate(478.2,115.0)"><path d="M-3.8 -1.6 C-3.8 -3.6 3.8 -3.6 3.8 -1.6 V1.8 C3.8 4.2 -3.8 4.2 -3.8 1.8 Z" fill="#a2a2a2"/><path d="M-2.6 -2.9 C-1 -4 2.2 -3.6 2.8 -2.4 C2.2 -1.4 1 -1 0 -1 C-1 -1.6 -2 -2 -2.6 -2.9 Z" fill="#555"/></g><g transform="translate(450.5,115.5)"><path d="M-3.8 -1.6 C-3.8 -3.6 3.8 -3.6 3.8 -1.6 V1.8 C3.8 4.2 -3.8 4.2 -3.8 1.8 Z" fill="#a2a2a2"/><path d="M-2.6 -2.9 C-1 -4 2.2 -3.6 2.8 -2.4 C2.2 -1.4 1 -1 0 -1 C-1 -1.6 -2 -2 -2.6 -2.9 Z" fill="#555"/></g><g transform="translate(422.3,116.0)"><path d="M-3.8 -1.6 C-3.8 -3.6 3.8 -3.6 3.8 -1.6 V1.8 C3.8 4.2 -3.8 4.2 -3.8 1.8 Z" fill="#a2a2a2"/><path d="M-2.6 -2.9 C-1 -4 2.2 -3.6 2.8 -2.4 C2.2 -1.4 1 -1 0 -1 C-1 -1.6 -2 -2 -2.6 -2.9 Z" fill="#555"/></g><g transform="translate(393.7,116.7)"><path d="M-3.8 -1.6 C-3.8 -3.6 3.8 -3.6 3.8 -1.6 V1.8 C3.8 4.2 -3.8 4.2 -3.8 1.8 Z" fill="#a2a2a2"/><path d="M-2.6 -2.9 C-1 -4 2.2 -3.6 2.8 -2.4 C2.2 -1.4 1 -1 0 -1 C-1 -1.6 -2 -2 -2.6 -2.9 Z" fill="#555"/></g><g transform="translate(364.7,117.3)"><path d="M-3.8 -1.6 C-3.8 -3.6 3.8 -3.6 3.8 -1.6 V1.8 C3.8 4.2 -3.8 4.2 -3.8 1.8 Z" fill="#a2a2a2"/><path d="M-2.6 -2.9 C-1 -4 2.2 -3.6 2.8 -2.4 C2.2 -1.4 1 -1 0 -1 C-1 -1.6 -2 -2 -2.6 -2.9 Z" fill="#555"/></g><g transform="translate(335.2,118.1)"><path d="M-3.8 -1.6 C-3.8 -3.6 3.8 -3.6 3.8 -1.6 V1.8 C3.8 4.2 -3.8 4.2 -3.8 1.8 Z" fill="#a2a2a2"/><path d="M-2.6 -2.9 C-1 -4 2.2 -3.6 2.8 -2.4 C2.2 -1.4 1 -1 0 -1 C-1 -1.6 -2 -2 -2.6 -2.9 Z" fill="#555"/></g><g transform="translate(460.8,119.5)"><path d="M-3.8 -1.6 C-3.8 -3.6 3.8 -3.6 3.8 -1.6 V1.8 C3.8 4.2 -3.8 4.2 -3.8 1.8 Z" fill="#a2a2a2"/><path d="M-2.6 -2.9 C-1 -4 2.2 -3.6 2.8 -2.4 C2.2 -1.4 1 -1 0 -1 C-1 -1.6 -2 -2 -2.6 -2.9 Z" fill="#555"/></g><g transform="translate(432.9,120.0)"><path d="M-3.8 -1.6 C-3.8 -3.6 3.8 -3.6 3.8 -1.6 V1.8 C3.8 4.2 -3.8 4.2 -3.8 1.8 Z" fill="#a2a2a2"/><path d="M-2.6 -2.9 C-1 -4 2.2 -3.6 2.8 -2.4 C2.2 -1.4 1 -1 0 -1 C-1 -1.6 -2 -2 -2.6 -2.9 Z" fill="#555"/></g><g transform="translate(404.5,120.6)"><path d="M-3.8 -1.6 C-3.8 -3.6 3.8 -3.6 3.8 -1.6 V1.8 C3.8 4.2 -3.8 4.2 -3.8 1.8 Z" fill="#a2a2a2"/><path d="M-2.6 -2.9 C-1 -4 2.2 -3.6 2.8 -2.4 C2.2 -1.4 1 -1 0 -1 C-1 -1.6 -2 -2 -2.6 -2.9 Z" fill="#555"/></g><g transform="translate(375.7,121.3)"><path d="M-3.8 -1.6 C-3.8 -3.6 3.8 -3.6 3.8 -1.6 V1.8 C3.8 4.2 -3.8 4.2 -3.8 1.8 Z" fill="#a2a2a2"/><path d="M-2.6 -2.9 C-1 -4 2.2 -3.6 2.8 -2.4 C2.2 -1.4 1 -1 0 -1 C-1 -1.6 -2 -2 -2.6 -2.9 Z" fill="#555"/></g><g transform="translate(346.4,122.0)"><path d="M-3.8 -1.6 C-3.8 -3.6 3.8 -3.6 3.8 -1.6 V1.8 C3.8 4.2 -3.8 4.2 -3.8 1.8 Z" fill="#a2a2a2"/><path d="M-2.6 -2.9 C-1 -4 2.2 -3.6 2.8 -2.4 C2.2 -1.4 1 -1 0 -1 C-1 -1.6 -2 -2 -2.6 -2.9 Z" fill="#555"/></g><g transform="translate(443.4,124.0)"><path d="M-3.8 -1.6 C-3.8 -3.6 3.8 -3.6 3.8 -1.6 V1.8 C3.8 4.2 -3.8 4.2 -3.8 1.8 Z" fill="#a2a2a2"/><path d="M-2.6 -2.9 C-1 -4 2.2 -3.6 2.8 -2.4 C2.2 -1.4 1 -1 0 -1 C-1 -1.6 -2 -2 -2.6 -2.9 Z" fill="#555"/></g><g transform="translate(415.2,124.6)"><path d="M-3.8 -1.6 C-3.8 -3.6 3.8 -3.6 3.8 -1.6 V1.8 C3.8 4.2 -3.8 4.2 -3.8 1.8 Z" fill="#a2a2a2"/><path d="M-2.6 -2.9 C-1 -4 2.2 -3.6 2.8 -2.4 C2.2 -1.4 1 -1 0 -1 C-1 -1.6 -2 -2 -2.6 -2.9 Z" fill="#555"/></g><g transform="translate(386.6,125.2)"><path d="M-3.8 -1.6 C-3.8 -3.6 3.8 -3.6 3.8 -1.6 V1.8 C3.8 4.2 -3.8 4.2 -3.8 1.8 Z" fill="#a2a2a2"/><path d="M-2.6 -2.9 C-1 -4 2.2 -3.6 2.8 -2.4 C2.2 -1.4 1 -1 0 -1 C-1 -1.6 -2 -2 -2.6 -2.9 Z" fill="#555"/></g><g transform="translate(357.6,125.9)"><path d="M-3.8 -1.6 C-3.8 -3.6 3.8 -3.6 3.8 -1.6 V1.8 C3.8 4.2 -3.8 4.2 -3.8 1.8 Z" fill="#a2a2a2"/><path d="M-2.6 -2.9 C-1 -4 2.2 -3.6 2.8 -2.4 C2.2 -1.4 1 -1 0 -1 C-1 -1.6 -2 -2 -2.6 -2.9 Z" fill="#555"/></g><g transform="translate(426.0,128.5)"><path d="M-3.8 -1.6 C-3.8 -3.6 3.8 -3.6 3.8 -1.6 V1.8 C3.8 4.2 -3.8 4.2 -3.8 1.8 Z" fill="#a2a2a2"/><path d="M-2.6 -2.9 C-1 -4 2.2 -3.6 2.8 -2.4 C2.2 -1.4 1 -1 0 -1 C-1 -1.6 -2 -2 -2.6 -2.9 Z" fill="#555"/></g><g transform="translate(397.6,129.1)"><path d="M-3.8 -1.6 C-3.8 -3.6 3.8 -3.6 3.8 -1.6 V1.8 C3.8 4.2 -3.8 4.2 -3.8 1.8 Z" fill="#a2a2a2"/><path d="M-2.6 -2.9 C-1 -4 2.2 -3.6 2.8 -2.4 C2.2 -1.4 1 -1 0 -1 C-1 -1.6 -2 -2 -2.6 -2.9 Z" fill="#555"/></g><g transform="translate(368.8,129.7)"><path d="M-3.8 -1.6 C-3.8 -3.6 3.8 -3.6 3.8 -1.6 V1.8 C3.8 4.2 -3.8 4.2 -3.8 1.8 Z" fill="#a2a2a2"/><path d="M-2.6 -2.9 C-1 -4 2.2 -3.6 2.8 -2.4 C2.2 -1.4 1 -1 0 -1 C-1 -1.6 -2 -2 -2.6 -2.9 Z" fill="#555"/></g><g transform="translate(408.6,133.0)"><path d="M-3.8 -1.6 C-3.8 -3.6 3.8 -3.6 3.8 -1.6 V1.8 C3.8 4.2 -3.8 4.2 -3.8 1.8 Z" fill="#a2a2a2"/><path d="M-2.6 -2.9 C-1 -4 2.2 -3.6 2.8 -2.4 C2.2 -1.4 1 -1 0 -1 C-1 -1.6 -2 -2 -2.6 -2.9 Z" fill="#555"/></g><g transform="translate(380.0,133.6)"><path d="M-3.8 -1.6 C-3.8 -3.6 3.8 -3.6 3.8 -1.6 V1.8 C3.8 4.2 -3.8 4.2 -3.8 1.8 Z" fill="#a2a2a2"/><path d="M-2.6 -2.9 C-1 -4 2.2 -3.6 2.8 -2.4 C2.2 -1.4 1 -1 0 -1 C-1 -1.6 -2 -2 -2.6 -2.9 Z" fill="#555"/></g><g transform="translate(391.2,137.5)"><path d="M-3.8 -1.6 C-3.8 -3.6 3.8 -3.6 3.8 -1.6 V1.8 C3.8 4.2 -3.8 4.2 -3.8 1.8 Z" fill="#a2a2a2"/><path d="M-2.6 -2.9 C-1 -4 2.2 -3.6 2.8 -2.4 C2.2 -1.4 1 -1 0 -1 C-1 -1.6 -2 -2 -2.6 -2.9 Z" fill="#555"/></g><path d="M568.7 115.5 L655.1 149.9 L770.2 118.4 L770.2 124.4 L655.1 155.9 L568.7 121.5 Z" fill="#c4c4c4"/><path d="M568.7 115.5 L678.0 89 L770.2 118.4 L655.1 149.9 Z" fill="#d9d9d9"/><g transform="translate(683.2,91.7)"><path d="M-3.8 -1.6 C-3.8 -3.6 3.8 -3.6 3.8 -1.6 V1.8 C3.8 4.2 -3.8 4.2 -3.8 1.8 Z" fill="#a2a2a2"/><path d="M-2.6 -2.9 C-1 -4 2.2 -3.6 2.8 -2.4 C2.2 -1.4 1 -1 0 -1 C-1 -1.6 -2 -2 -2.6 -2.9 Z" fill="#555"/></g><g transform="translate(693.3,95.8)"><path d="M-3.8 -1.6 C-3.8 -3.6 3.8 -3.6 3.8 -1.6 V1.8 C3.8 4.2 -3.8 4.2 -3.8 1.8 Z" fill="#a2a2a2"/><path d="M-2.6 -2.9 C-1 -4 2.2 -3.6 2.8 -2.4 C2.2 -1.4 1 -1 0 -1 C-1 -1.6 -2 -2 -2.6 -2.9 Z" fill="#555"/></g><g transform="translate(664.5,96.4)"><path d="M-3.8 -1.6 C-3.8 -3.6 3.8 -3.6 3.8 -1.6 V1.8 C3.8 4.2 -3.8 4.2 -3.8 1.8 Z" fill="#a2a2a2"/><path d="M-2.6 -2.9 C-1 -4 2.2 -3.6 2.8 -2.4 C2.2 -1.4 1 -1 0 -1 C-1 -1.6 -2 -2 -2.6 -2.9 Z" fill="#555"/></g><g transform="translate(703.4,99.8)"><path d="M-3.8 -1.6 C-3.8 -3.6 3.8 -3.6 3.8 -1.6 V1.8 C3.8 4.2 -3.8 4.2 -3.8 1.8 Z" fill="#a2a2a2"/><path d="M-2.6 -2.9 C-1 -4 2.2 -3.6 2.8 -2.4 C2.2 -1.4 1 -1 0 -1 C-1 -1.6 -2 -2 -2.6 -2.9 Z" fill="#555"/></g><g transform="translate(674.8,100.4)"><path d="M-3.8 -1.6 C-3.8 -3.6 3.8 -3.6 3.8 -1.6 V1.8 C3.8 4.2 -3.8 4.2 -3.8 1.8 Z" fill="#a2a2a2"/><path d="M-2.6 -2.9 C-1 -4 2.2 -3.6 2.8 -2.4 C2.2 -1.4 1 -1 0 -1 C-1 -1.6 -2 -2 -2.6 -2.9 Z" fill="#555"/></g><g transform="translate(645.8,101.1)"><path d="M-3.8 -1.6 C-3.8 -3.6 3.8 -3.6 3.8 -1.6 V1.8 C3.8 4.2 -3.8 4.2 -3.8 1.8 Z" fill="#a2a2a2"/><path d="M-2.6 -2.9 C-1 -4 2.2 -3.6 2.8 -2.4 C2.2 -1.4 1 -1 0 -1 C-1 -1.6 -2 -2 -2.6 -2.9 Z" fill="#555"/></g><g transform="translate(713.5,103.9)"><path d="M-3.8 -1.6 C-3.8 -3.6 3.8 -3.6 3.8 -1.6 V1.8 C3.8 4.2 -3.8 4.2 -3.8 1.8 Z" fill="#a2a2a2"/><path d="M-2.6 -2.9 C-1 -4 2.2 -3.6 2.8 -2.4 C2.2 -1.4 1 -1 0 -1 C-1 -1.6 -2 -2 -2.6 -2.9 Z" fill="#555"/></g><g transform="translate(685.1,104.4)"><path d="M-3.8 -1.6 C-3.8 -3.6 3.8 -3.6 3.8 -1.6 V1.8 C3.8 4.2 -3.8 4.2 -3.8 1.8 Z" fill="#a2a2a2"/><path d="M-2.6 -2.9 C-1 -4 2.2 -3.6 2.8 -2.4 C2.2 -1.4 1 -1 0 -1 C-1 -1.6 -2 -2 -2.6 -2.9 Z" fill="#555"/></g><g transform="translate(656.3,105.1)"><path d="M-3.8 -1.6 C-3.8 -3.6 3.8 -3.6 3.8 -1.6 V1.8 C3.8 4.2 -3.8 4.2 -3.8 1.8 Z" fill="#a2a2a2"/><path d="M-2.6 -2.9 C-1 -4 2.2 -3.6 2.8 -2.4 C2.2 -1.4 1 -1 0 -1 C-1 -1.6 -2 -2 -2.6 -2.9 Z" fill="#555"/></g><g transform="translate(627.0,105.8)"><path d="M-3.8 -1.6 C-3.8 -3.6 3.8 -3.6 3.8 -1.6 V1.8 C3.8 4.2 -3.8 4.2 -3.8 1.8 Z" fill="#a2a2a2"/><path d="M-2.6 -2.9 C-1 -4 2.2 -3.6 2.8 -2.4 C2.2 -1.4 1 -1 0 -1 C-1 -1.6 -2 -2 -2.6 -2.9 Z" fill="#555"/></g><g transform="translate(723.6,107.9)"><path d="M-3.8 -1.6 C-3.8 -3.6 3.8 -3.6 3.8 -1.6 V1.8 C3.8 4.2 -3.8 4.2 -3.8 1.8 Z" fill="#a2a2a2"/><path d="M-2.6 -2.9 C-1 -4 2.2 -3.6 2.8 -2.4 C2.2 -1.4 1 -1 0 -1 C-1 -1.6 -2 -2 -2.6 -2.9 Z" fill="#555"/></g><g transform="translate(695.4,108.5)"><path d="M-3.8 -1.6 C-3.8 -3.6 3.8 -3.6 3.8 -1.6 V1.8 C3.8 4.2 -3.8 4.2 -3.8 1.8 Z" fill="#a2a2a2"/><path d="M-2.6 -2.9 C-1 -4 2.2 -3.6 2.8 -2.4 C2.2 -1.4 1 -1 0 -1 C-1 -1.6 -2 -2 -2.6 -2.9 Z" fill="#555"/></g><g transform="translate(666.8,109.1)"><path d="M-3.8 -1.6 C-3.8 -3.6 3.8 -3.6 3.8 -1.6 V1.8 C3.8 4.2 -3.8 4.2 -3.8 1.8 Z" fill="#a2a2a2"/><path d="M-2.6 -2.9 C-1 -4 2.2 -3.6 2.8 -2.4 C2.2 -1.4 1 -1 0 -1 C-1 -1.6 -2 -2 -2.6 -2.9 Z" fill="#555"/></g><g transform="translate(637.8,109.8)"><path d="M-3.8 -1.6 C-3.8 -3.6 3.8 -3.6 3.8 -1.6 V1.8 C3.8 4.2 -3.8 4.2 -3.8 1.8 Z" fill="#a2a2a2"/><path d="M-2.6 -2.9 C-1 -4 2.2 -3.6 2.8 -2.4 C2.2 -1.4 1 -1 0 -1 C-1 -1.6 -2 -2 -2.6 -2.9 Z" fill="#555"/></g><g transform="translate(608.2,110.5)"><path d="M-3.8 -1.6 C-3.8 -3.6 3.8 -3.6 3.8 -1.6 V1.8 C3.8 4.2 -3.8 4.2 -3.8 1.8 Z" fill="#a2a2a2"/><path d="M-2.6 -2.9 C-1 -4 2.2 -3.6 2.8 -2.4 C2.2 -1.4 1 -1 0 -1 C-1 -1.6 -2 -2 -2.6 -2.9 Z" fill="#555"/></g><g transform="translate(733.6,112.0)"><path d="M-3.8 -1.6 C-3.8 -3.6 3.8 -3.6 3.8 -1.6 V1.8 C3.8 4.2 -3.8 4.2 -3.8 1.8 Z" fill="#a2a2a2"/><path d="M-2.6 -2.9 C-1 -4 2.2 -3.6 2.8 -2.4 C2.2 -1.4 1 -1 0 -1 C-1 -1.6 -2 -2 -2.6 -2.9 Z" fill="#555"/></g><g transform="translate(705.7,112.5)"><path d="M-3.8 -1.6 C-3.8 -3.6 3.8 -3.6 3.8 -1.6 V1.8 C3.8 4.2 -3.8 4.2 -3.8 1.8 Z" fill="#a2a2a2"/><path d="M-2.6 -2.9 C-1 -4 2.2 -3.6 2.8 -2.4 C2.2 -1.4 1 -1 0 -1 C-1 -1.6 -2 -2 -2.6 -2.9 Z" fill="#555"/></g><g transform="translate(677.3,113.1)"><path d="M-3.8 -1.6 C-3.8 -3.6 3.8 -3.6 3.8 -1.6 V1.8 C3.8 4.2 -3.8 4.2 -3.8 1.8 Z" fill="#a2a2a2"/><path d="M-2.6 -2.9 C-1 -4 2.2 -3.6 2.8 -2.4 C2.2 -1.4 1 -1 0 -1 C-1 -1.6 -2 -2 -2.6 -2.9 Z" fill="#555"/></g><g transform="translate(648.5,113.7)"><path d="M-3.8 -1.6 C-3.8 -3.6 3.8 -3.6 3.8 -1.6 V1.8 C3.8 4.2 -3.8 4.2 -3.8 1.8 Z" fill="#a2a2a2"/><path d="M-2.6 -2.9 C-1 -4 2.2 -3.6 2.8 -2.4 C2.2 -1.4 1 -1 0 -1 C-1 -1.6 -2 -2 -2.6 -2.9 Z" fill="#555"/></g><g transform="translate(619.2,114.4)"><path d="M-3.8 -1.6 C-3.8 -3.6 3.8 -3.6 3.8 -1.6 V1.8 C3.8 4.2 -3.8 4.2 -3.8 1.8 Z" fill="#a2a2a2"/><path d="M-2.6 -2.9 C-1 -4 2.2 -3.6 2.8 -2.4 C2.2 -1.4 1 -1 0 -1 C-1 -1.6 -2 -2 -2.6 -2.9 Z" fill="#555"/></g><g transform="translate(743.7,116.0)"><path d="M-3.8 -1.6 C-3.8 -3.6 3.8 -3.6 3.8 -1.6 V1.8 C3.8 4.2 -3.8 4.2 -3.8 1.8 Z" fill="#a2a2a2"/><path d="M-2.6 -2.9 C-1 -4 2.2 -3.6 2.8 -2.4 C2.2 -1.4 1 -1 0 -1 C-1 -1.6 -2 -2 -2.6 -2.9 Z" fill="#555"/></g><g transform="translate(716.0,116.5)"><path d="M-3.8 -1.6 C-3.8 -3.6 3.8 -3.6 3.8 -1.6 V1.8 C3.8 4.2 -3.8 4.2 -3.8 1.8 Z" fill="#a2a2a2"/><path d="M-2.6 -2.9 C-1 -4 2.2 -3.6 2.8 -2.4 C2.2 -1.4 1 -1 0 -1 C-1 -1.6 -2 -2 -2.6 -2.9 Z" fill="#555"/></g><g transform="translate(687.9,117.0)"><path d="M-3.8 -1.6 C-3.8 -3.6 3.8 -3.6 3.8 -1.6 V1.8 C3.8 4.2 -3.8 4.2 -3.8 1.8 Z" fill="#a2a2a2"/><path d="M-2.6 -2.9 C-1 -4 2.2 -3.6 2.8 -2.4 C2.2 -1.4 1 -1 0 -1 C-1 -1.6 -2 -2 -2.6 -2.9 Z" fill="#555"/></g><g transform="translate(659.2,117.7)"><path d="M-3.8 -1.6 C-3.8 -3.6 3.8 -3.6 3.8 -1.6 V1.8 C3.8 4.2 -3.8 4.2 -3.8 1.8 Z" fill="#a2a2a2"/><path d="M-2.6 -2.9 C-1 -4 2.2 -3.6 2.8 -2.4 C2.2 -1.4 1 -1 0 -1 C-1 -1.6 -2 -2 -2.6 -2.9 Z" fill="#555"/></g><g transform="translate(630.2,118.3)"><path d="M-3.8 -1.6 C-3.8 -3.6 3.8 -3.6 3.8 -1.6 V1.8 C3.8 4.2 -3.8 4.2 -3.8 1.8 Z" fill="#a2a2a2"/><path d="M-2.6 -2.9 C-1 -4 2.2 -3.6 2.8 -2.4 C2.2 -1.4 1 -1 0 -1 C-1 -1.6 -2 -2 -2.6 -2.9 Z" fill="#555"/></g><g transform="translate(600.7,119.1)"><path d="M-3.8 -1.6 C-3.8 -3.6 3.8 -3.6 3.8 -1.6 V1.8 C3.8 4.2 -3.8 4.2 -3.8 1.8 Z" fill="#a2a2a2"/><path d="M-2.6 -2.9 C-1 -4 2.2 -3.6 2.8 -2.4 C2.2 -1.4 1 -1 0 -1 C-1 -1.6 -2 -2 -2.6 -2.9 Z" fill="#555"/></g><g transform="translate(726.3,120.5)"><path d="M-3.8 -1.6 C-3.8 -3.6 3.8 -3.6 3.8 -1.6 V1.8 C3.8 4.2 -3.8 4.2 -3.8 1.8 Z" fill="#a2a2a2"/><path d="M-2.6 -2.9 C-1 -4 2.2 -3.6 2.8 -2.4 C2.2 -1.4 1 -1 0 -1 C-1 -1.6 -2 -2 -2.6 -2.9 Z" fill="#555"/></g><g transform="translate(698.4,121.0)"><path d="M-3.8 -1.6 C-3.8 -3.6 3.8 -3.6 3.8 -1.6 V1.8 C3.8 4.2 -3.8 4.2 -3.8 1.8 Z" fill="#a2a2a2"/><path d="M-2.6 -2.9 C-1 -4 2.2 -3.6 2.8 -2.4 C2.2 -1.4 1 -1 0 -1 C-1 -1.6 -2 -2 -2.6 -2.9 Z" fill="#555"/></g><g transform="translate(670.0,121.6)"><path d="M-3.8 -1.6 C-3.8 -3.6 3.8 -3.6 3.8 -1.6 V1.8 C3.8 4.2 -3.8 4.2 -3.8 1.8 Z" fill="#a2a2a2"/><path d="M-2.6 -2.9 C-1 -4 2.2 -3.6 2.8 -2.4 C2.2 -1.4 1 -1 0 -1 C-1 -1.6 -2 -2 -2.6 -2.9 Z" fill="#555"/></g><g transform="translate(641.2,122.3)"><path d="M-3.8 -1.6 C-3.8 -3.6 3.8 -3.6 3.8 -1.6 V1.8 C3.8 4.2 -3.8 4.2 -3.8 1.8 Z" fill="#a2a2a2"/><path d="M-2.6 -2.9 C-1 -4 2.2 -3.6 2.8 -2.4 C2.2 -1.4 1 -1 0 -1 C-1 -1.6 -2 -2 -2.6 -2.9 Z" fill="#555"/></g><g transform="translate(611.9,123.0)"><path d="M-3.8 -1.6 C-3.8 -3.6 3.8 -3.6 3.8 -1.6 V1.8 C3.8 4.2 -3.8 4.2 -3.8 1.8 Z" fill="#a2a2a2"/><path d="M-2.6 -2.9 C-1 -4 2.2 -3.6 2.8 -2.4 C2.2 -1.4 1 -1 0 -1 C-1 -1.6 -2 -2 -2.6 -2.9 Z" fill="#555"/></g><g transform="translate(708.9,125.0)"><path d="M-3.8 -1.6 C-3.8 -3.6 3.8 -3.6 3.8 -1.6 V1.8 C3.8 4.2 -3.8 4.2 -3.8 1.8 Z" fill="#a2a2a2"/><path d="M-2.6 -2.9 C-1 -4 2.2 -3.6 2.8 -2.4 C2.2 -1.4 1 -1 0 -1 C-1 -1.6 -2 -2 -2.6 -2.9 Z" fill="#555"/></g><g transform="translate(680.8,125.6)"><path d="M-3.8 -1.6 C-3.8 -3.6 3.8 -3.6 3.8 -1.6 V1.8 C3.8 4.2 -3.8 4.2 -3.8 1.8 Z" fill="#a2a2a2"/><path d="M-2.6 -2.9 C-1 -4 2.2 -3.6 2.8 -2.4 C2.2 -1.4 1 -1 0 -1 C-1 -1.6 -2 -2 -2.6 -2.9 Z" fill="#555"/></g><g transform="translate(652.2,126.2)"><path d="M-3.8 -1.6 C-3.8 -3.6 3.8 -3.6 3.8 -1.6 V1.8 C3.8 4.2 -3.8 4.2 -3.8 1.8 Z" fill="#a2a2a2"/><path d="M-2.6 -2.9 C-1 -4 2.2 -3.6 2.8 -2.4 C2.2 -1.4 1 -1 0 -1 C-1 -1.6 -2 -2 -2.6 -2.9 Z" fill="#555"/></g><g transform="translate(623.1,126.9)"><path d="M-3.8 -1.6 C-3.8 -3.6 3.8 -3.6 3.8 -1.6 V1.8 C3.8 4.2 -3.8 4.2 -3.8 1.8 Z" fill="#a2a2a2"/><path d="M-2.6 -2.9 C-1 -4 2.2 -3.6 2.8 -2.4 C2.2 -1.4 1 -1 0 -1 C-1 -1.6 -2 -2 -2.6 -2.9 Z" fill="#555"/></g><g transform="translate(691.5,129.5)"><path d="M-3.8 -1.6 C-3.8 -3.6 3.8 -3.6 3.8 -1.6 V1.8 C3.8 4.2 -3.8 4.2 -3.8 1.8 Z" fill="#a2a2a2"/><path d="M-2.6 -2.9 C-1 -4 2.2 -3.6 2.8 -2.4 C2.2 -1.4 1 -1 0 -1 C-1 -1.6 -2 -2 -2.6 -2.9 Z" fill="#555"/></g><g transform="translate(663.1,130.1)"><path d="M-3.8 -1.6 C-3.8 -3.6 3.8 -3.6 3.8 -1.6 V1.8 C3.8 4.2 -3.8 4.2 -3.8 1.8 Z" fill="#a2a2a2"/><path d="M-2.6 -2.9 C-1 -4 2.2 -3.6 2.8 -2.4 C2.2 -1.4 1 -1 0 -1 C-1 -1.6 -2 -2 -2.6 -2.9 Z" fill="#555"/></g><g transform="translate(634.3,130.7)"><path d="M-3.8 -1.6 C-3.8 -3.6 3.8 -3.6 3.8 -1.6 V1.8 C3.8 4.2 -3.8 4.2 -3.8 1.8 Z" fill="#a2a2a2"/><path d="M-2.6 -2.9 C-1 -4 2.2 -3.6 2.8 -2.4 C2.2 -1.4 1 -1 0 -1 C-1 -1.6 -2 -2 -2.6 -2.9 Z" fill="#555"/></g><g transform="translate(674.1,134.0)"><path d="M-3.8 -1.6 C-3.8 -3.6 3.8 -3.6 3.8 -1.6 V1.8 C3.8 4.2 -3.8 4.2 -3.8 1.8 Z" fill="#a2a2a2"/><path d="M-2.6 -2.9 C-1 -4 2.2 -3.6 2.8 -2.4 C2.2 -1.4 1 -1 0 -1 C-1 -1.6 -2 -2 -2.6 -2.9 Z" fill="#555"/></g><g transform="translate(645.5,134.6)"><path d="M-3.8 -1.6 C-3.8 -3.6 3.8 -3.6 3.8 -1.6 V1.8 C3.8 4.2 -3.8 4.2 -3.8 1.8 Z" fill="#a2a2a2"/><path d="M-2.6 -2.9 C-1 -4 2.2 -3.6 2.8 -2.4 C2.2 -1.4 1 -1 0 -1 C-1 -1.6 -2 -2 -2.6 -2.9 Z" fill="#555"/></g><g transform="translate(656.7,138.5)"><path d="M-3.8 -1.6 C-3.8 -3.6 3.8 -3.6 3.8 -1.6 V1.8 C3.8 4.2 -3.8 4.2 -3.8 1.8 Z" fill="#a2a2a2"/><path d="M-2.6 -2.9 C-1 -4 2.2 -3.6 2.8 -2.4 C2.2 -1.4 1 -1 0 -1 C-1 -1.6 -2 -2 -2.6 -2.9 Z" fill="#555"/></g><g transform="translate(85.3,78.9) rotate(-57) scale(1.0)"><path d="M0 -6 C3 -6 4 -3 4 1 C4 4.5 2.5 6 0 6 C-2.5 6 -4 4.5 -4 1 C-4 -3 -3 -6 0 -6 Z" fill="#555"/><path d="M-1.4 -5 V-14.5 M1.4 -5 V-14.5" stroke="#555" stroke-width="1.5"/><rect x="-0.7" y="-14" width="1.4" height="9" fill="#9a9a9a"/><path d="M-1.2 -14 L-5.2 -20.5 M1.2 -14 L4.4 -20.5" stroke="#555" stroke-width="1.6" stroke-linecap="round"/><path d="M-7.4 -18.6 L-4.3 -13.6 M6.6 -18.8 L3.8 -13.3" stroke="#3bb5c9" stroke-width="2.3"/></g><g transform="translate(155.1,92.6) rotate(0) scale(1.0)"><path d="M0 -6 C3 -6 4 -3 4 1 C4 4.5 2.5 6 0 6 C-2.5 6 -4 4.5 -4 1 C-4 -3 -3 -6 0 -6 Z" fill="#555"/><path d="M-1.4 -5 V-14.5 M1.4 -5 V-14.5" stroke="#555" stroke-width="1.5"/><rect x="-0.7" y="-14" width="1.4" height="9" fill="#9a9a9a"/><path d="M-1.2 -14 L-5.2 -20.5 M1.2 -14 L4.4 -20.5" stroke="#555" stroke-width="1.6" stroke-linecap="round"/><path d="M-7.4 -18.6 L-4.3 -13.6 M6.6 -18.8 L3.8 -13.3" stroke="#e0103a" stroke-width="2.3"/></g><g transform="translate(217.4,99.2) rotate(18) scale(1.0)"><path d="M0 -6 C3 -6 4 -3 4 1 C4 4.5 2.5 6 0 6 C-2.5 6 -4 4.5 -4 1 C-4 -3 -3 -6 0 -6 Z" fill="#555"/><path d="M-1.4 -5 V-14.5 M1.4 -5 V-14.5" stroke="#555" stroke-width="1.5"/><rect x="-0.7" y="-14" width="1.4" height="9" fill="#9a9a9a"/><path d="M-1.2 -14 L-5.2 -20.5 M1.2 -14 L4.4 -20.5" stroke="#555" stroke-width="1.6" stroke-linecap="round"/><path d="M-7.4 -18.6 L-4.3 -13.6 M6.6 -18.8 L3.8 -13.3" stroke="#22aa22" stroke-width="2.3"/></g><path d="M92.4 81.5 C100 81 106 88 107.6 96" fill="none" stroke="#231f20" stroke-width="1.1"/><path d="M105.5 95 L108 99.5 L110 94.5 Z" fill="#231f20"/><path d="M357.4 55.1 C364 56 370 60 371 68 C372 75 370 81 365 82.4 C360 83 354 76 351 68 C349 60 351 54 357.4 55.1 Z" fill="#c8c8c8"/><path d="M437 48.7 L449.6 43.5 C452 43 457 48 457.8 52.4 C458 55 456 59 454.8 59.9 L442.1 64.4 C439 65 437 63 436.9 60 Z" fill="#c8c8c8"/><path d="M477.3 67.4 C480 66 497 75 499.7 79.3 C500 82 492 86 487.7 87.5 C484 88 481 85 479.5 82.3 C477 77 475 70 477.3 67.4 Z" fill="#c8c8c8"/><g transform="translate(374.7,101.6) rotate(0) scale(1.0)"><path d="M0 -6 C3 -6 4 -3 4 1 C4 4.5 2.5 6 0 6 C-2.5 6 -4 4.5 -4 1 C-4 -3 -3 -6 0 -6 Z" fill="#555"/><path d="M-1.4 -5 V-14.5 M1.4 -5 V-14.5" stroke="#555" stroke-width="1.5"/><rect x="-0.7" y="-14" width="1.4" height="9" fill="#9a9a9a"/><path d="M-1.2 -14 L-5.2 -20.5 M1.2 -14 L4.4 -20.5" stroke="#555" stroke-width="1.6" stroke-linecap="round"/><path d="M-7.4 -18.6 L-4.3 -13.6 M6.6 -18.8 L3.8 -13.3" stroke="#3bb5c9" stroke-width="2.3"/></g><g transform="translate(419.7,97.3) rotate(0) scale(1.0)"><path d="M0 -6 C3 -6 4 -3 4 1 C4 4.5 2.5 6 0 6 C-2.5 6 -4 4.5 -4 1 C-4 -3 -3 -6 0 -6 Z" fill="#555"/><path d="M-1.4 -5 V-14.5 M1.4 -5 V-14.5" stroke="#555" stroke-width="1.5"/><rect x="-0.7" y="-14" width="1.4" height="9" fill="#9a9a9a"/><path d="M-1.2 -14 L-5.2 -20.5 M1.2 -14 L4.4 -20.5" stroke="#555" stroke-width="1.6" stroke-linecap="round"/><path d="M-7.4 -18.6 L-4.3 -13.6 M6.6 -18.8 L3.8 -13.3" stroke="#e0103a" stroke-width="2.3"/></g><g transform="translate(478.8,108.5) rotate(0) scale(1.0)"><path d="M0 -6 C3 -6 4 -3 4 1 C4 4.5 2.5 6 0 6 C-2.5 6 -4 4.5 -4 1 C-4 -3 -3 -6 0 -6 Z" fill="#555"/><path d="M-1.4 -5 V-14.5 M1.4 -5 V-14.5" stroke="#555" stroke-width="1.5"/><rect x="-0.7" y="-14" width="1.4" height="9" fill="#9a9a9a"/><path d="M-1.2 -14 L-5.2 -20.5 M1.2 -14 L4.4 -20.5" stroke="#555" stroke-width="1.6" stroke-linecap="round"/><path d="M-7.4 -18.6 L-4.3 -13.6 M6.6 -18.8 L3.8 -13.3" stroke="#22aa22" stroke-width="2.3"/></g><path d="M436.2 56.6 C428 57 420 64 419.5 71" fill="none" stroke="#231f20" stroke-width="1.1"/><path d="M417 70.5 L419.3 75 L421.6 70.5 Z" fill="#231f20"/><path d="M624 57.4 C630 60 635 63 636 68 C637 74 637 80 628.2 83.5 C622 80 617 74 616.9 67.3 C617 61 620 57 624 57.4 Z" fill="#c8c8c8"/><g transform="translate(640.6,104) rotate(0) scale(1.0)"><path d="M0 -6 C3 -6 4 -3 4 1 C4 4.5 2.5 6 0 6 C-2.5 6 -4 4.5 -4 1 C-4 -3 -3 -6 0 -6 Z" fill="#555"/><path d="M-1.4 -5 V-14.5 M1.4 -5 V-14.5" stroke="#555" stroke-width="1.5"/><rect x="-0.7" y="-14" width="1.4" height="9" fill="#9a9a9a"/><path d="M-1.2 -14 L-5.2 -20.5 M1.2 -14 L4.4 -20.5" stroke="#555" stroke-width="1.6" stroke-linecap="round"/><path d="M-7.4 -18.6 L-4.3 -13.6 M6.6 -18.8 L3.8 -13.3" stroke="#3bb5c9" stroke-width="2.3"/></g><path d="M621.9 42.2 L623.3 48.3 L624 55.3 M623.3 48.3 L633.1 50.4" stroke="#8c8c8c" stroke-width="2.2" fill="none" stroke-linejoin="round"/><path d="M621.9 42.2 L623.3 48.3 L624 55.3 M623.3 48.3 L633.1 50.4" stroke="#dcdcdc" stroke-width="0.6" fill="none"/><path d="M618.7 41.3 L613.2 39.6 L618.9 40.0 Z M618.8 40.3 L613.2 36.5 L619.5 39.1 Z M619.3 39.4 L615.5 34.3 L620.3 38.4 Z M620.0 38.6 L617.9 31.9 L621.3 38.1 Z M621.1 38.1 L621.7 32.2 L622.5 38.1 Z M622.0 38.0 L623.8 33.4 L623.3 38.3 Z M622.8 38.1 L625.6 34.3 L624.0 38.8 Z M623.8 38.7 L629.7 34.6 L624.7 39.7 Z M624.5 39.4 L630.7 37.6 L625.1 40.7 Z M624.9 40.2 L628.7 40.5 L625.1 41.6 Z " fill="#a8e0ea" stroke="#a8e0ea" stroke-width="0.3"/><path d="M618.3 43.0 C618.3 38.0 625.5 38.0 625.5 43.0 Z" fill="#3bb5c9"/><path d="M686.5 63.8 C692 60 697 57 699 57.2 C703 58 707 62 707 65.3 C707 68 705 71 704 72.6 C700 75 697 77 694.6 78.5 C691 78 689 75 688.7 72.6 C687 69 686 66 686.5 63.8 Z" fill="#c8c8c8"/><g transform="translate(685,94) rotate(0) scale(1.0)"><path d="M0 -6 C3 -6 4 -3 4 1 C4 4.5 2.5 6 0 6 C-2.5 6 -4 4.5 -4 1 C-4 -3 -3 -6 0 -6 Z" fill="#555"/><path d="M-1.4 -5 V-14.5 M1.4 -5 V-14.5" stroke="#555" stroke-width="1.5"/><rect x="-0.7" y="-14" width="1.4" height="9" fill="#9a9a9a"/><path d="M-1.2 -14 L-5.2 -20.5 M1.2 -14 L4.4 -20.5" stroke="#555" stroke-width="1.6" stroke-linecap="round"/><path d="M-7.4 -18.6 L-4.3 -13.6 M6.6 -18.8 L3.8 -13.3" stroke="#e0103a" stroke-width="2.3"/></g><path d="M676.9 51.6 L677.6 58.7 L675.4 64.6 M677.6 58.7 L685 61.6" stroke="#8c8c8c" stroke-width="2.2" fill="none" stroke-linejoin="round"/><path d="M676.9 51.6 L677.6 58.7 L675.4 64.6 M677.6 58.7 L685 61.6" stroke="#dcdcdc" stroke-width="0.6" fill="none"/><path d="M673.7 50.9 L667.2 49.4 L673.9 49.5 Z M673.9 49.6 L668.9 45.7 L674.6 48.4 Z M674.3 48.7 L671.7 44.7 L675.4 47.8 Z M675.2 47.9 L674.2 43.3 L676.5 47.4 Z M675.8 47.6 L675.6 41.0 L677.2 47.4 Z M677.1 47.4 L679.2 42.8 L678.4 47.8 Z M677.6 47.5 L679.7 44.8 L678.9 48.1 Z M678.6 47.9 L682.2 45.4 L679.6 48.9 Z M679.4 48.6 L683.8 47.3 L680.0 49.9 Z M680.0 49.8 L686.2 50.4 L680.0 51.2 Z " fill="#f4a0b8" stroke="#f4a0b8" stroke-width="0.3"/><path d="M673.3 52.4 C673.3 47.4 680.5 47.4 680.5 52.4 Z" fill="#e0103a"/><path d="M742.4 70.4 C750 73 758 76 763 80 C763 82 762 84 761.5 84.4 C758 86 755 88 752.6 88.8 C750 89 748 87 746.8 85.9 C745 82 743 79 743 77 C742 75 742 72 742.4 70.4 Z" fill="#c8c8c8"/><g transform="translate(744,105) rotate(0) scale(1.0)"><path d="M0 -6 C3 -6 4 -3 4 1 C4 4.5 2.5 6 0 6 C-2.5 6 -4 4.5 -4 1 C-4 -3 -3 -6 0 -6 Z" fill="#555"/><path d="M-1.4 -5 V-14.5 M1.4 -5 V-14.5" stroke="#555" stroke-width="1.5"/><rect x="-0.7" y="-14" width="1.4" height="9" fill="#9a9a9a"/><path d="M-1.2 -14 L-5.2 -20.5 M1.2 -14 L4.4 -20.5" stroke="#555" stroke-width="1.6" stroke-linecap="round"/><path d="M-7.4 -18.6 L-4.3 -13.6 M6.6 -18.8 L3.8 -13.3" stroke="#22aa22" stroke-width="2.3"/></g><path d="M747.5 54.5 L745.3 63 L746.8 68.2 M745.3 63 L737.2 61.6" stroke="#8c8c8c" stroke-width="2.2" fill="none" stroke-linejoin="round"/><path d="M747.5 54.5 L745.3 63 L746.8 68.2 M745.3 63 L737.2 61.6" stroke="#dcdcdc" stroke-width="0.6" fill="none"/><path d="M744.3 53.6 L738.8 52.0 L744.5 52.3 Z M744.5 52.4 L741.4 49.6 L745.3 51.2 Z M744.9 51.6 L742.2 47.6 L745.9 50.7 Z M745.7 50.9 L744.1 45.1 L747.0 50.3 Z M746.7 50.4 L747.2 43.6 L748.1 50.4 Z M747.4 50.3 L748.9 46.5 L748.8 50.6 Z M748.4 50.4 L751.2 46.8 L749.6 51.1 Z M749.4 50.9 L752.1 49.5 L750.3 52.0 Z M750.1 51.6 L755.8 49.8 L750.6 52.9 Z M750.5 52.3 L755.3 52.2 L750.7 53.7 Z " fill="#a8e8a8" stroke="#a8e8a8" stroke-width="0.3"/><path d="M743.9 55.3 C743.9 50.3 751.1 50.3 751.1 55.3 Z" fill="#22aa22"/><text transform="translate(74,141.5) rotate(22)" font-size="10" text-anchor="middle" fill="#231f20">Streptavidin surface</text></svg></body></html>
